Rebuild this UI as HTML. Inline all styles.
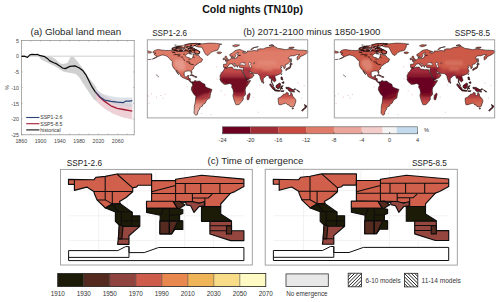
<!DOCTYPE html>
<html><head><meta charset="utf-8"><style>
html,body{margin:0;padding:0;background:#fff;width:500px;height:302px;overflow:hidden}
svg{display:block}
text{font-family:"Liberation Sans", sans-serif}
</style></head><body>
<svg width="500" height="302" viewBox="0 0 500 302">
<rect width="500" height="302" fill="#fff"/>
<text x="202.20" y="12.60" font-size="11" text-anchor="start" fill="#111" font-weight="bold" textLength="100.80" lengthAdjust="spacingAndGlyphs" >Cold nights (TN10p)</text>
<text x="30.40" y="35.00" font-size="9.2" text-anchor="start" fill="#1e1e1e" font-weight="normal" textLength="90.80" lengthAdjust="spacingAndGlyphs" >(a) Global land mean</text>
<text x="243.20" y="34.60" font-size="9.2" text-anchor="start" fill="#1e1e1e" font-weight="normal" textLength="137.20" lengthAdjust="spacingAndGlyphs" >(b) 2071-2100 minus 1850-1900</text>
<text x="152.20" y="35.60" font-size="8.5" text-anchor="start" fill="#222" font-weight="normal" textLength="34.80" lengthAdjust="spacingAndGlyphs" >SSP1-2.6</text>
<text x="454.80" y="35.60" font-size="8.5" text-anchor="start" fill="#222" font-weight="normal" textLength="35.20" lengthAdjust="spacingAndGlyphs" >SSP5-8.5</text>
<text x="207.60" y="163.80" font-size="9.2" text-anchor="start" fill="#1e1e1e" font-weight="normal" textLength="95.80" lengthAdjust="spacingAndGlyphs" >(c) Time of emergence</text>
<text x="66.80" y="166.00" font-size="8.3" text-anchor="start" fill="#222" font-weight="normal" textLength="35.20" lengthAdjust="spacingAndGlyphs" >SSP1-2.6</text>
<text x="411.90" y="165.70" font-size="8.3" text-anchor="start" fill="#222" font-weight="normal" textLength="35.00" lengthAdjust="spacingAndGlyphs" >SSP5-8.5</text>
<rect x="21.4" y="40.4" width="112.79999999999998" height="94.4" fill="none" stroke="#888" stroke-width="0.7"/>
<line x1="21.4" y1="56.20" x2="134.2" y2="56.20" stroke="#bbb" stroke-width="0.7"/>
<line x1="30.94" y1="134.8" x2="30.94" y2="133.60000000000002" stroke="#888" stroke-width="0.5"/>
<line x1="30.94" y1="40.4" x2="30.94" y2="41.6" stroke="#888" stroke-width="0.5"/>
<line x1="40.58" y1="134.8" x2="40.58" y2="133.60000000000002" stroke="#888" stroke-width="0.5"/>
<line x1="40.58" y1="40.4" x2="40.58" y2="41.6" stroke="#888" stroke-width="0.5"/>
<line x1="50.22" y1="134.8" x2="50.22" y2="133.60000000000002" stroke="#888" stroke-width="0.5"/>
<line x1="50.22" y1="40.4" x2="50.22" y2="41.6" stroke="#888" stroke-width="0.5"/>
<line x1="59.86" y1="134.8" x2="59.86" y2="133.60000000000002" stroke="#888" stroke-width="0.5"/>
<line x1="59.86" y1="40.4" x2="59.86" y2="41.6" stroke="#888" stroke-width="0.5"/>
<line x1="69.50" y1="134.8" x2="69.50" y2="133.60000000000002" stroke="#888" stroke-width="0.5"/>
<line x1="69.50" y1="40.4" x2="69.50" y2="41.6" stroke="#888" stroke-width="0.5"/>
<line x1="79.14" y1="134.8" x2="79.14" y2="133.60000000000002" stroke="#888" stroke-width="0.5"/>
<line x1="79.14" y1="40.4" x2="79.14" y2="41.6" stroke="#888" stroke-width="0.5"/>
<line x1="88.78" y1="134.8" x2="88.78" y2="133.60000000000002" stroke="#888" stroke-width="0.5"/>
<line x1="88.78" y1="40.4" x2="88.78" y2="41.6" stroke="#888" stroke-width="0.5"/>
<line x1="98.42" y1="134.8" x2="98.42" y2="133.60000000000002" stroke="#888" stroke-width="0.5"/>
<line x1="98.42" y1="40.4" x2="98.42" y2="41.6" stroke="#888" stroke-width="0.5"/>
<line x1="108.06" y1="134.8" x2="108.06" y2="133.60000000000002" stroke="#888" stroke-width="0.5"/>
<line x1="108.06" y1="40.4" x2="108.06" y2="41.6" stroke="#888" stroke-width="0.5"/>
<line x1="117.70" y1="134.8" x2="117.70" y2="133.60000000000002" stroke="#888" stroke-width="0.5"/>
<line x1="117.70" y1="40.4" x2="117.70" y2="41.6" stroke="#888" stroke-width="0.5"/>
<line x1="127.34" y1="134.8" x2="127.34" y2="133.60000000000002" stroke="#888" stroke-width="0.5"/>
<line x1="127.34" y1="40.4" x2="127.34" y2="41.6" stroke="#888" stroke-width="0.5"/>
<line x1="21.4" y1="40.48" x2="22.599999999999998" y2="40.48" stroke="#888" stroke-width="0.5"/>
<line x1="134.2" y1="40.48" x2="133.0" y2="40.48" stroke="#888" stroke-width="0.5"/>
<text x="19.00" y="42.69" font-size="5.3" text-anchor="end" fill="#444" font-weight="normal" >5</text>
<line x1="21.4" y1="56.20" x2="22.599999999999998" y2="56.20" stroke="#888" stroke-width="0.5"/>
<line x1="134.2" y1="56.20" x2="133.0" y2="56.20" stroke="#888" stroke-width="0.5"/>
<text x="19.00" y="58.40" font-size="5.3" text-anchor="end" fill="#444" font-weight="normal" >0</text>
<line x1="21.4" y1="71.92" x2="22.599999999999998" y2="71.92" stroke="#888" stroke-width="0.5"/>
<line x1="134.2" y1="71.92" x2="133.0" y2="71.92" stroke="#888" stroke-width="0.5"/>
<text x="19.00" y="74.12" font-size="5.3" text-anchor="end" fill="#444" font-weight="normal" >-5</text>
<line x1="21.4" y1="87.63" x2="22.599999999999998" y2="87.63" stroke="#888" stroke-width="0.5"/>
<line x1="134.2" y1="87.63" x2="133.0" y2="87.63" stroke="#888" stroke-width="0.5"/>
<text x="19.00" y="89.83" font-size="5.3" text-anchor="end" fill="#444" font-weight="normal" >-10</text>
<line x1="21.4" y1="103.34" x2="22.599999999999998" y2="103.34" stroke="#888" stroke-width="0.5"/>
<line x1="134.2" y1="103.34" x2="133.0" y2="103.34" stroke="#888" stroke-width="0.5"/>
<text x="19.00" y="105.55" font-size="5.3" text-anchor="end" fill="#444" font-weight="normal" >-15</text>
<line x1="21.4" y1="119.06" x2="22.599999999999998" y2="119.06" stroke="#888" stroke-width="0.5"/>
<line x1="134.2" y1="119.06" x2="133.0" y2="119.06" stroke="#888" stroke-width="0.5"/>
<text x="19.00" y="121.26" font-size="5.3" text-anchor="end" fill="#444" font-weight="normal" >-20</text>
<line x1="21.4" y1="134.77" x2="22.599999999999998" y2="134.77" stroke="#888" stroke-width="0.5"/>
<line x1="134.2" y1="134.77" x2="133.0" y2="134.77" stroke="#888" stroke-width="0.5"/>
<text x="19.00" y="136.97" font-size="5.3" text-anchor="end" fill="#444" font-weight="normal" >-25</text>
<text x="21.30" y="142.90" font-size="5.3" text-anchor="middle" fill="#444" font-weight="normal" >1860</text>
<text x="40.58" y="142.90" font-size="5.3" text-anchor="middle" fill="#444" font-weight="normal" >1900</text>
<text x="59.86" y="142.90" font-size="5.3" text-anchor="middle" fill="#444" font-weight="normal" >1940</text>
<text x="79.14" y="142.90" font-size="5.3" text-anchor="middle" fill="#444" font-weight="normal" >1980</text>
<text x="98.42" y="142.90" font-size="5.3" text-anchor="middle" fill="#444" font-weight="normal" >2020</text>
<text x="117.70" y="142.90" font-size="5.3" text-anchor="middle" fill="#444" font-weight="normal" >2060</text>
<text x="0" y="0" font-size="5.2" fill="#444" text-anchor="middle" transform="translate(9.2,87.6) rotate(-90)">%</text>
<polygon points="37.8,55.0 40.0,56.2 44.0,56.2 49.0,56.2 52.5,57.2 56.0,59.5 59.7,63.3 62.9,63.9 67.4,62.9 70.9,56.5 73.9,57.2 77.2,61.3 81.9,67.3 89.1,77.9 95.8,86.5 96.5,87.5 97.0,101.5 93.5,99.0 89.1,92.5 82.5,82.5 79.6,77.8 75.9,73.9 68.0,72.6 63.7,71.8 55.8,66.8 49.8,63.8 41.9,59.9 38.9,56.9" fill="#d0d0d0"/>
<polygon points="95.8,89.0 101.0,93.5 108.0,97.5 116.0,100.8 124.0,102.8 132.3,104.0 132.3,119.5 123.4,117.4 113.4,114.0 104.6,108.8 98.0,103.0 95.8,100.0" fill="#e8c6cd" fill-opacity="0.8"/>
<polygon points="94.5,87.5 102.1,93.8 110.9,96.3 119.7,97.6 132.3,97.6 132.3,107.0 123.4,106.4 114.6,104.5 107.1,100.7 100.0,96.0 95.5,92.0" fill="#c9d0da" fill-opacity="0.62"/>
<polyline points="95.8,92.3 99.5,97.0 104.6,101.4 110.9,105.8 117.2,108.3 123.4,109.5 132.3,111.2" fill="none" stroke="#a41c36" stroke-width="1.3" stroke-linejoin="round"/>
<polyline points="95.8,92.3 100.8,97.6 104.6,100.1 110.9,101.4 117.2,102.2 123.4,102.6 126.0,101.1 129.7,101.1 132.3,100.7" fill="none" stroke="#2a4272" stroke-width="1.2" stroke-linejoin="round"/>
<polyline points="21.5,56.4 24.5,56.2 27.4,57.4 29.9,54.9 31.9,54.4 35.9,54.6 37.9,54.4 39.4,55.4 44.8,56.7 47.3,58.4 49.8,60.9 53.8,62.7 56.7,63.9 59.7,65.9 62.4,68.0 65.3,68.6 69.9,66.4 74.9,65.9 79.0,67.8 83.0,70.8 85.9,74.8 88.9,80.7 91.9,86.7 94.9,91.3 95.8,92.3" fill="none" stroke="#0a0a0a" stroke-width="1.2" stroke-linejoin="round"/>
<line x1="26.2" y1="117.50" x2="39.4" y2="117.50" stroke="#2a4272" stroke-width="1.1"/>
<text x="40.20" y="119.30" font-size="5.2" text-anchor="start" fill="#333" font-weight="normal" >SSP1-2.6</text>
<line x1="26.2" y1="123.70" x2="39.4" y2="123.70" stroke="#a41c36" stroke-width="1.1"/>
<text x="40.20" y="125.50" font-size="5.2" text-anchor="start" fill="#333" font-weight="normal" >SSP5-8.5</text>
<line x1="26.2" y1="129.90" x2="39.4" y2="129.90" stroke="#111" stroke-width="1.1"/>
<text x="40.20" y="131.70" font-size="5.2" text-anchor="start" fill="#333" font-weight="normal" >historical</text>
<defs><clipPath id="landL"><path d="M147.5,50.7L149.7,51.4L151.5,51.9L151.1,52.8L148.4,53.1L147.5,52.8Z"/><path d="M172.0,49.4L172.4,47.9L175.5,47.0L178.7,46.2L183.1,45.5L185.3,44.5L189.8,43.7L196.4,43.4L200.9,43.8L195.6,45.3L193.3,46.3L192.0,47.1L192.9,48.0L195.6,49.4L197.8,50.5L200.0,51.8L199.1,53.9L196.4,54.1L194.7,53.1L192.9,53.1L191.1,52.0L188.9,51.3L185.8,50.7L183.1,51.0L179.5,51.3L176.0,50.7L173.8,50.2Z"/><path d="M152.8,52.5L153.7,51.0L155.5,50.1L158.2,49.5L161.7,50.1L164.9,50.4L168.4,50.5L172.0,50.2L176.4,50.8L179.5,51.3L184.0,51.4L185.8,50.5L188.4,51.1L191.1,50.8L191.6,52.0L189.3,52.0L188.4,53.3L186.2,54.4L185.5,55.9L186.4,57.0L189.3,57.8L191.1,59.1L192.4,58.0L193.3,55.9L192.9,54.1L195.1,54.4L196.9,55.4L198.7,55.4L200.2,57.5L202.7,59.3L201.3,61.9L199.1,62.7L198.2,63.8L196.4,64.3L196.4,65.1L194.7,65.7L193.8,67.4L193.8,68.4L191.6,70.3L192.0,73.4L191.3,73.4L190.7,71.3L189.8,71.0L187.8,70.9L185.8,71.3L184.2,72.3L184.2,75.2L185.3,77.0L187.1,76.9L187.3,75.7L188.9,75.5L188.4,78.3L190.2,78.6L190.4,80.9L191.3,82.0L192.2,81.7L193.1,82.2L192.9,82.9L191.8,82.9L190.7,82.4L189.6,81.2L188.7,79.9L186.9,79.4L184.9,78.5L183.1,77.8L180.7,76.2L180.7,74.9L179.1,73.4L177.8,71.6L176.6,70.3L177.1,71.6L178.7,74.7L177.8,73.7L176.4,71.8L175.5,69.7L174.0,68.7L173.1,67.1L172.4,65.6L172.2,63.8L172.4,61.7L172.0,60.6L170.6,60.1L169.3,58.3L167.5,56.7L165.3,55.5L162.2,54.9L160.0,55.7L157.7,56.7L155.5,57.9L152.4,59.1L155.1,57.6L157.1,56.2L155.5,55.4L154.0,54.4L154.4,53.6L156.0,53.1L153.7,52.9Z"/><path d="M195.1,45.9L198.2,47.0L201.8,47.2L202.9,49.2L203.6,50.7L204.5,52.6L205.8,54.6L208.0,55.5L209.1,54.4L210.7,52.6L213.4,51.3L216.0,50.7L217.8,50.0L218.3,48.7L219.4,46.8L219.1,45.0L221.8,44.2L216.5,43.4L209.8,43.1L203.1,43.7L200.0,44.0L196.4,45.0Z"/><path d="M187.6,48.9L189.8,48.2L192.9,48.8L196.0,49.8L197.8,50.5L200.0,51.9L198.5,54.1L196.0,54.0L194.7,53.1L195.1,51.5L192.9,50.3L189.3,50.0Z"/><path d="M186.7,46.8L190.2,46.9L192.9,46.6L193.8,45.7L197.3,44.7L200.0,44.0L196.4,43.4L189.8,43.7L186.7,44.5L184.9,45.3Z"/><path d="M186.7,47.9L192.0,47.9L192.0,46.8L187.6,46.7Z"/><path d="M174.9,49.7L176.0,48.4L178.7,48.7L182.2,48.7L182.7,50.7L180.4,50.8L176.0,50.7Z"/><path d="M171.8,49.2L172.4,48.0L175.5,47.8L176.4,48.5L174.2,49.5Z"/><path d="M175.1,47.3L177.3,46.7L180.9,46.8L181.3,47.6L178.2,47.9Z"/><path d="M182.7,48.9L184.9,48.4L185.8,49.2L184.4,50.0Z"/><path d="M188.9,53.6L191.6,54.0L189.8,52.3Z"/><path d="M216.9,52.6L217.8,52.0L220.9,52.0L221.6,52.8L219.6,53.7L217.6,53.4Z"/><path d="M225.1,60.6L228.3,60.1L228.4,59.2L227.6,58.8L226.8,57.6L226.8,56.7L226.2,56.1L225.4,56.1L224.8,57.2L225.4,58.1L226.3,58.5L225.5,59.2L225.4,59.8L226.3,59.9Z"/><path d="M224.9,59.6L224.9,58.5L224.3,57.9L223.1,58.5L223.0,59.7Z"/><path d="M223.6,67.4L223.5,64.3L226.7,64.0L226.9,62.7L225.6,61.4L228.3,60.6L229.4,59.8L231.2,58.6L231.4,57.0L232.3,56.7L232.4,58.5L233.8,58.5L236.9,58.0L236.9,57.0L238.3,55.7L240.5,55.4L237.6,55.3L236.9,54.4L238.7,52.8L237.4,52.4L235.2,54.6L235.8,55.7L234.7,57.5L233.2,57.5L232.3,55.8L231.2,56.5L230.0,56.0L229.8,54.4L232.0,53.3L233.8,51.5L236.1,50.2L238.3,49.7L240.1,49.6L242.3,50.5L245.8,51.8L244.5,52.3L243.2,52.0L242.5,52.3L244.5,53.3L247.2,52.3L247.2,51.0L251.2,51.0L254.3,50.5L257.9,51.0L257.4,49.4L260.1,48.8L263.2,48.9L266.3,47.6L272.1,46.6L274.3,46.3L277.9,48.4L281.4,48.8L285.4,49.7L289.9,48.9L294.3,49.4L298.8,50.2L303.2,50.2L307.7,50.8L307.7,52.6L306.8,53.1L305.0,54.4L303.2,55.4L300.1,56.7L299.7,58.3L297.2,60.1L297.0,57.0L299.7,54.6L297.0,54.6L294.3,55.7L290.3,55.9L288.1,58.3L290.3,59.1L289.9,61.7L287.7,64.0L285.4,64.5L285.2,67.9L283.9,68.7L283.7,67.1L283.2,66.1L281.7,65.8L280.6,66.4L282.1,67.4L280.6,68.4L281.7,70.0L281.9,71.6L280.6,73.6L277.9,74.9L275.9,75.5L274.8,76.8L276.1,80.4L274.3,82.1L272.3,79.6L271.9,81.5L272.1,82.5L273.7,85.9L271.4,82.5L271.2,78.3L269.4,78.3L268.5,75.5L266.8,75.5L264.1,77.8L263.2,78.8L263.2,81.5L261.9,82.5L260.1,77.8L259.9,75.7L258.8,74.9L257.4,73.6L255.2,73.5L253.0,73.2L252.7,72.6L250.7,72.2L249.8,71.0L249.0,71.0L250.1,72.9L250.5,73.6L252.5,73.1L252.7,74.2L254.2,74.9L252.1,77.8L250.7,78.3L247.6,79.9L246.7,80.0L245.0,75.7L243.2,72.1L243.0,71.3L242.8,70.4L243.4,67.9L243.6,67.5L240.9,67.8L239.6,67.4L239.4,65.8L237.8,65.6L237.4,67.4L236.5,65.8L236.3,64.8L233.6,63.0L233.1,63.5L234.7,65.1L235.8,65.8L234.7,66.9L234.5,66.9L232.9,65.1L232.0,63.8L230.7,63.9L228.9,64.3L228.9,64.9L227.6,66.4L227.4,67.1L226.7,67.6L225.2,67.9Z"/><path d="M225.0,67.8L223.1,71.3L221.8,72.3L220.0,75.7L220.3,78.8L219.8,79.0L220.9,81.2L222.5,83.1L224.3,84.4L226.7,84.2L229.8,83.5L231.6,84.6L232.0,85.6L231.6,87.2L232.9,89.3L233.6,92.4L232.9,95.8L234.3,100.7L235.8,104.6L236.5,104.8L239.2,104.4L241.8,101.5L243.4,99.2L243.2,97.1L245.6,94.5L245.4,91.9L245.2,89.8L245.8,87.4L247.2,85.9L250.3,81.2L250.5,80.5L247.2,80.9L246.7,80.0L245.6,78.3L244.5,75.7L243.4,73.6L242.3,71.6L242.1,70.1L241.4,69.8L238.7,69.5L236.5,70.0L236.5,69.2L234.3,69.2L232.5,68.2L232.3,67.1L231.2,67.1L228.9,67.2L226.7,67.9Z"/><path d="M247.2,99.7L247.0,97.9L247.4,95.3L249.6,92.9L250.1,94.7L248.7,99.7Z"/><path d="M193.3,82.2L194.2,80.9L195.6,80.4L195.8,81.2L197.3,81.2L200.0,81.1L200.9,82.2L203.1,83.5L204.9,84.3L205.3,86.7L207.8,88.0L212.0,89.5L210.5,93.7L209.8,98.1L206.7,99.9L205.1,103.3L202.7,104.6L202.7,105.9L200.5,107.0L199.6,108.0L199.8,109.0L198.2,110.9L197.6,113.2L197.6,114.3L195.8,115.3L194.0,113.2L194.2,109.6L194.4,105.9L195.3,102.3L195.8,96.3L193.6,93.9L191.3,89.8L191.6,87.2L192.7,85.4L192.2,82.5Z"/><path d="M278.3,98.1L278.1,100.2L278.8,104.4L280.1,104.9L282.8,104.1L285.9,103.1L287.7,104.9L289.0,104.9L289.9,106.4L292.6,107.0L294.3,106.2L295.9,101.2L295.7,99.7L293.9,97.3L292.6,96.3L292.3,94.2L291.0,92.2L290.6,93.4L290.6,95.5L289.9,95.8L288.1,94.5L288.3,92.9L286.3,92.5L285.2,94.5L284.1,93.9L283.2,94.5L281.9,95.8L281.4,96.8L279.7,97.4Z"/><path d="M292.1,107.9L293.6,108.0L293.0,109.3L292.3,108.8Z"/><path d="M304.5,104.6L307.0,106.3L306.4,107.2L305.3,108.3L305.3,107.0Z"/><path d="M304.5,107.7L305.2,108.3L303.8,109.8L302.6,110.9L301.7,110.5Z"/><path d="M285.9,69.0L287.7,68.1L289.9,66.9L290.6,65.2L290.8,66.1L290.1,68.2L289.2,68.6L287.7,69.2L285.9,70.5Z"/><path d="M289.9,64.8L290.7,63.0L292.3,64.1L291.2,64.8Z"/><path d="M263.2,83.5L264.0,82.8L263.3,81.6Z"/><path d="M281.1,74.9L281.7,73.5L281.8,73.9Z"/><path d="M281.0,77.0L282.1,77.1L282.8,79.9L281.2,79.4Z"/><path d="M281.9,83.0L283.9,83.3L283.7,81.7L282.6,82.1Z"/><path d="M270.0,83.8L271.2,84.5L274.8,88.2L274.8,89.8L273.0,89.3L269.9,85.1Z"/><path d="M274.3,89.8L277.0,90.0L278.6,90.3L280.6,90.9L278.6,91.3L274.8,90.8Z"/><path d="M293.5,89.5L295.2,88.7L295.7,89.3L294.3,90.0Z"/><path d="M296.6,89.8L298.8,91.1L299.7,92.1L297.9,91.3Z"/><path d="M281.0,91.1L284.1,90.8L283.2,91.6Z"/><path d="M276.1,85.6L279.7,83.0L280.6,84.1L280.1,86.1L279.2,88.5L277.0,88.2L276.1,87.2Z"/><path d="M280.6,89.7L280.8,86.4L283.2,85.7L281.7,87.1L282.6,89.0L281.4,88.2Z"/><path d="M285.9,87.4L288.8,87.4L293.0,89.8L294.6,92.1L291.2,91.3L290.3,91.5L289.0,91.0L287.7,88.8L286.3,88.7Z"/><path d="M189.8,75.3L192.0,74.6L194.6,76.1L193.1,76.3L192.0,75.4Z"/><path d="M194.4,77.1L195.2,76.3L197.1,77.0L196.0,77.4Z"/><path d="M290.8,62.7L291.5,61.1L291.0,58.4L290.8,60.1Z"/><path d="M232.5,45.8L235.2,44.7L239.6,45.0L237.4,46.3L234.7,46.8Z"/><path d="M250.7,49.7L252.5,47.9L258.3,46.7L254.3,47.6L252.1,49.4Z"/><path d="M269.0,45.5L272.1,44.5L273.9,45.5Z"/><path d="M288.6,48.1L290.8,47.1L294.3,47.3L292.1,48.4Z"/></clipPath><filter id="blurL" x="-5%" y="-5%" width="110%" height="110%"><feGaussianBlur stdDeviation="1.1"/></filter></defs>
<g clip-path="url(#landL)"><rect x="147.5" y="39.8" width="160.2" height="78.1" fill="#df7b69"/><g filter="url(#blurL)">
<path d="M175.1,59.6L183.1,59.6L185.8,65.8L184.0,70.5L178.7,70.5L174.2,64.8Z" fill="#e6998a"/>
<path d="M169.8,45.0L200.9,45.0L196.4,52.3L174.2,52.3Z" fill="#d46a58"/>
<path d="M175.1,72.6L184.9,72.6L192.0,76.2L194.2,84.1L185.3,84.1L178.7,78.8Z" fill="#d46656"/>
<path d="M186.2,78.3L194.2,78.3L194.2,84.1L187.6,84.1Z" fill="#a22c3a"/>
<path d="M189.3,74.2L198.2,74.2L198.2,78.3L189.3,78.3Z" fill="#6a1420"/>
<path d="M222.3,55.4L240.9,55.4L245.4,60.6L245.4,68.4L222.3,68.4Z" fill="#dc7262"/>
<path d="M245.4,45.0L307.7,45.0L307.7,50.2L245.4,50.2Z" fill="#d8705c"/>
<path d="M257.9,60.6L275.7,60.6L275.7,65.3L257.9,65.3Z" fill="#e28676"/>
<path d="M243.2,66.9L254.3,66.9L255.2,73.6L254.3,80.4L245.4,80.4L242.7,72.1Z" fill="#c9544a"/>
<path d="M254.3,69.0L283.2,69.0L283.2,76.2L254.3,76.2Z" fill="#c85048"/>
<path d="M262.3,66.9L272.1,66.9L272.1,70.5L262.3,70.5Z" fill="#dc7a6a"/>
<path d="M257.0,72.6L268.5,72.6L268.5,76.2L263.2,84.1L259.6,78.8Z" fill="#b03a40"/>
<path d="M268.5,74.7L276.6,74.7L276.6,86.7L268.5,86.7Z" fill="#9c2634"/>
<path d="M269.4,76.2L295.2,76.2L295.2,92.9L269.4,92.9Z" fill="#8a1a2a"/>
<path d="M219.6,66.9L250.7,66.9L250.7,78.3L219.6,78.3Z" fill="#aa3440"/>
<path d="M219.6,66.9L243.2,66.9L243.2,73.1L219.6,73.1Z" fill="#c24846"/>
<path d="M219.6,77.3L250.7,77.3L246.3,89.3L243.6,94.5L232.9,94.5L231.2,86.7L219.6,82.5Z" fill="#740a20"/>
<path d="M232.0,92.9L246.3,92.9L244.5,97.1L234.3,97.1Z" fill="#a02838"/>
<path d="M232.0,97.1L245.4,97.1L243.2,101.2L234.3,101.2Z" fill="#d06656"/>
<path d="M232.0,101.2L243.2,101.2L240.9,105.4L234.3,105.4Z" fill="#de8674"/>
<path d="M246.3,92.4L250.7,92.4L250.7,100.2L246.3,100.2Z" fill="#a02838"/>
<path d="M191.1,79.9L203.1,79.9L212.5,89.3L210.7,92.9L203.1,95.0L196.4,98.1L191.1,96.0Z" fill="#6e0820"/>
<path d="M191.1,96.0L196.4,98.1L203.1,95.0L210.7,92.9L209.8,98.1L203.1,100.2L194.2,100.2Z" fill="#a8343e"/>
<path d="M192.9,100.2L207.6,100.2L204.5,103.8L192.9,103.8Z" fill="#d06a5c"/>
<path d="M192.0,103.8L204.5,103.8L200.9,108.5L192.0,108.5Z" fill="#e49888"/>
<path d="M192.0,108.5L200.9,108.5L198.7,117.9L192.0,117.9Z" fill="#eaaca0"/>
<path d="M277.4,91.9L296.6,91.9L296.6,98.1L277.4,98.1Z" fill="#c85046"/>
<path d="M287.7,102.3L296.6,102.3L296.6,110.1L287.7,110.1Z" fill="#e08a78"/>
<path d="M301.0,103.8L307.7,103.8L307.7,111.7L301.0,111.7Z" fill="#8a1a2a"/>
</g></g>
<path d="M147.5,50.7L149.7,51.4L151.5,51.9L151.1,52.8L148.4,53.1L147.5,52.8ZM172.0,49.4L172.4,47.9L175.5,47.0L178.7,46.2L183.1,45.5L185.3,44.5L189.8,43.7L196.4,43.4L200.9,43.8L195.6,45.3L193.3,46.3L192.0,47.1L192.9,48.0L195.6,49.4L197.8,50.5L200.0,51.8L199.1,53.9L196.4,54.1L194.7,53.1L192.9,53.1L191.1,52.0L188.9,51.3L185.8,50.7L183.1,51.0L179.5,51.3L176.0,50.7L173.8,50.2ZM152.8,52.5L153.7,51.0L155.5,50.1L158.2,49.5L161.7,50.1L164.9,50.4L168.4,50.5L172.0,50.2L176.4,50.8L179.5,51.3L184.0,51.4L185.8,50.5L188.4,51.1L191.1,50.8L191.6,52.0L189.3,52.0L188.4,53.3L186.2,54.4L185.5,55.9L186.4,57.0L189.3,57.8L191.1,59.1L192.4,58.0L193.3,55.9L192.9,54.1L195.1,54.4L196.9,55.4L198.7,55.4L200.2,57.5L202.7,59.3L201.3,61.9L199.1,62.7L198.2,63.8L196.4,64.3L196.4,65.1L194.7,65.7L193.8,67.4L193.8,68.4L191.6,70.3L192.0,73.4L191.3,73.4L190.7,71.3L189.8,71.0L187.8,70.9L185.8,71.3L184.2,72.3L184.2,75.2L185.3,77.0L187.1,76.9L187.3,75.7L188.9,75.5L188.4,78.3L190.2,78.6L190.4,80.9L191.3,82.0L192.2,81.7L193.1,82.2L192.9,82.9L191.8,82.9L190.7,82.4L189.6,81.2L188.7,79.9L186.9,79.4L184.9,78.5L183.1,77.8L180.7,76.2L180.7,74.9L179.1,73.4L177.8,71.6L176.6,70.3L177.1,71.6L178.7,74.7L177.8,73.7L176.4,71.8L175.5,69.7L174.0,68.7L173.1,67.1L172.4,65.6L172.2,63.8L172.4,61.7L172.0,60.6L170.6,60.1L169.3,58.3L167.5,56.7L165.3,55.5L162.2,54.9L160.0,55.7L157.7,56.7L155.5,57.9L152.4,59.1L155.1,57.6L157.1,56.2L155.5,55.4L154.0,54.4L154.4,53.6L156.0,53.1L153.7,52.9ZM195.1,45.9L198.2,47.0L201.8,47.2L202.9,49.2L203.6,50.7L204.5,52.6L205.8,54.6L208.0,55.5L209.1,54.4L210.7,52.6L213.4,51.3L216.0,50.7L217.8,50.0L218.3,48.7L219.4,46.8L219.1,45.0L221.8,44.2L216.5,43.4L209.8,43.1L203.1,43.7L200.0,44.0L196.4,45.0ZM187.6,48.9L189.8,48.2L192.9,48.8L196.0,49.8L197.8,50.5L200.0,51.9L198.5,54.1L196.0,54.0L194.7,53.1L195.1,51.5L192.9,50.3L189.3,50.0ZM186.7,46.8L190.2,46.9L192.9,46.6L193.8,45.7L197.3,44.7L200.0,44.0L196.4,43.4L189.8,43.7L186.7,44.5L184.9,45.3ZM186.7,47.9L192.0,47.9L192.0,46.8L187.6,46.7ZM174.9,49.7L176.0,48.4L178.7,48.7L182.2,48.7L182.7,50.7L180.4,50.8L176.0,50.7ZM171.8,49.2L172.4,48.0L175.5,47.8L176.4,48.5L174.2,49.5ZM175.1,47.3L177.3,46.7L180.9,46.8L181.3,47.6L178.2,47.9ZM182.7,48.9L184.9,48.4L185.8,49.2L184.4,50.0ZM188.9,53.6L191.6,54.0L189.8,52.3ZM216.9,52.6L217.8,52.0L220.9,52.0L221.6,52.8L219.6,53.7L217.6,53.4ZM225.1,60.6L228.3,60.1L228.4,59.2L227.6,58.8L226.8,57.6L226.8,56.7L226.2,56.1L225.4,56.1L224.8,57.2L225.4,58.1L226.3,58.5L225.5,59.2L225.4,59.8L226.3,59.9ZM224.9,59.6L224.9,58.5L224.3,57.9L223.1,58.5L223.0,59.7ZM223.6,67.4L223.5,64.3L226.7,64.0L226.9,62.7L225.6,61.4L228.3,60.6L229.4,59.8L231.2,58.6L231.4,57.0L232.3,56.7L232.4,58.5L233.8,58.5L236.9,58.0L236.9,57.0L238.3,55.7L240.5,55.4L237.6,55.3L236.9,54.4L238.7,52.8L237.4,52.4L235.2,54.6L235.8,55.7L234.7,57.5L233.2,57.5L232.3,55.8L231.2,56.5L230.0,56.0L229.8,54.4L232.0,53.3L233.8,51.5L236.1,50.2L238.3,49.7L240.1,49.6L242.3,50.5L245.8,51.8L244.5,52.3L243.2,52.0L242.5,52.3L244.5,53.3L247.2,52.3L247.2,51.0L251.2,51.0L254.3,50.5L257.9,51.0L257.4,49.4L260.1,48.8L263.2,48.9L266.3,47.6L272.1,46.6L274.3,46.3L277.9,48.4L281.4,48.8L285.4,49.7L289.9,48.9L294.3,49.4L298.8,50.2L303.2,50.2L307.7,50.8L307.7,52.6L306.8,53.1L305.0,54.4L303.2,55.4L300.1,56.7L299.7,58.3L297.2,60.1L297.0,57.0L299.7,54.6L297.0,54.6L294.3,55.7L290.3,55.9L288.1,58.3L290.3,59.1L289.9,61.7L287.7,64.0L285.4,64.5L285.2,67.9L283.9,68.7L283.7,67.1L283.2,66.1L281.7,65.8L280.6,66.4L282.1,67.4L280.6,68.4L281.7,70.0L281.9,71.6L280.6,73.6L277.9,74.9L275.9,75.5L274.8,76.8L276.1,80.4L274.3,82.1L272.3,79.6L271.9,81.5L272.1,82.5L273.7,85.9L271.4,82.5L271.2,78.3L269.4,78.3L268.5,75.5L266.8,75.5L264.1,77.8L263.2,78.8L263.2,81.5L261.9,82.5L260.1,77.8L259.9,75.7L258.8,74.9L257.4,73.6L255.2,73.5L253.0,73.2L252.7,72.6L250.7,72.2L249.8,71.0L249.0,71.0L250.1,72.9L250.5,73.6L252.5,73.1L252.7,74.2L254.2,74.9L252.1,77.8L250.7,78.3L247.6,79.9L246.7,80.0L245.0,75.7L243.2,72.1L243.0,71.3L242.8,70.4L243.4,67.9L243.6,67.5L240.9,67.8L239.6,67.4L239.4,65.8L237.8,65.6L237.4,67.4L236.5,65.8L236.3,64.8L233.6,63.0L233.1,63.5L234.7,65.1L235.8,65.8L234.7,66.9L234.5,66.9L232.9,65.1L232.0,63.8L230.7,63.9L228.9,64.3L228.9,64.9L227.6,66.4L227.4,67.1L226.7,67.6L225.2,67.9ZM225.0,67.8L223.1,71.3L221.8,72.3L220.0,75.7L220.3,78.8L219.8,79.0L220.9,81.2L222.5,83.1L224.3,84.4L226.7,84.2L229.8,83.5L231.6,84.6L232.0,85.6L231.6,87.2L232.9,89.3L233.6,92.4L232.9,95.8L234.3,100.7L235.8,104.6L236.5,104.8L239.2,104.4L241.8,101.5L243.4,99.2L243.2,97.1L245.6,94.5L245.4,91.9L245.2,89.8L245.8,87.4L247.2,85.9L250.3,81.2L250.5,80.5L247.2,80.9L246.7,80.0L245.6,78.3L244.5,75.7L243.4,73.6L242.3,71.6L242.1,70.1L241.4,69.8L238.7,69.5L236.5,70.0L236.5,69.2L234.3,69.2L232.5,68.2L232.3,67.1L231.2,67.1L228.9,67.2L226.7,67.9ZM247.2,99.7L247.0,97.9L247.4,95.3L249.6,92.9L250.1,94.7L248.7,99.7ZM193.3,82.2L194.2,80.9L195.6,80.4L195.8,81.2L197.3,81.2L200.0,81.1L200.9,82.2L203.1,83.5L204.9,84.3L205.3,86.7L207.8,88.0L212.0,89.5L210.5,93.7L209.8,98.1L206.7,99.9L205.1,103.3L202.7,104.6L202.7,105.9L200.5,107.0L199.6,108.0L199.8,109.0L198.2,110.9L197.6,113.2L197.6,114.3L195.8,115.3L194.0,113.2L194.2,109.6L194.4,105.9L195.3,102.3L195.8,96.3L193.6,93.9L191.3,89.8L191.6,87.2L192.7,85.4L192.2,82.5ZM278.3,98.1L278.1,100.2L278.8,104.4L280.1,104.9L282.8,104.1L285.9,103.1L287.7,104.9L289.0,104.9L289.9,106.4L292.6,107.0L294.3,106.2L295.9,101.2L295.7,99.7L293.9,97.3L292.6,96.3L292.3,94.2L291.0,92.2L290.6,93.4L290.6,95.5L289.9,95.8L288.1,94.5L288.3,92.9L286.3,92.5L285.2,94.5L284.1,93.9L283.2,94.5L281.9,95.8L281.4,96.8L279.7,97.4ZM292.1,107.9L293.6,108.0L293.0,109.3L292.3,108.8ZM304.5,104.6L307.0,106.3L306.4,107.2L305.3,108.3L305.3,107.0ZM304.5,107.7L305.2,108.3L303.8,109.8L302.6,110.9L301.7,110.5ZM285.9,69.0L287.7,68.1L289.9,66.9L290.6,65.2L290.8,66.1L290.1,68.2L289.2,68.6L287.7,69.2L285.9,70.5ZM289.9,64.8L290.7,63.0L292.3,64.1L291.2,64.8ZM263.2,83.5L264.0,82.8L263.3,81.6ZM281.1,74.9L281.7,73.5L281.8,73.9ZM281.0,77.0L282.1,77.1L282.8,79.9L281.2,79.4ZM281.9,83.0L283.9,83.3L283.7,81.7L282.6,82.1ZM270.0,83.8L271.2,84.5L274.8,88.2L274.8,89.8L273.0,89.3L269.9,85.1ZM274.3,89.8L277.0,90.0L278.6,90.3L280.6,90.9L278.6,91.3L274.8,90.8ZM293.5,89.5L295.2,88.7L295.7,89.3L294.3,90.0ZM296.6,89.8L298.8,91.1L299.7,92.1L297.9,91.3ZM281.0,91.1L284.1,90.8L283.2,91.6ZM276.1,85.6L279.7,83.0L280.6,84.1L280.1,86.1L279.2,88.5L277.0,88.2L276.1,87.2ZM280.6,89.7L280.8,86.4L283.2,85.7L281.7,87.1L282.6,89.0L281.4,88.2ZM285.9,87.4L288.8,87.4L293.0,89.8L294.6,92.1L291.2,91.3L290.3,91.5L289.0,91.0L287.7,88.8L286.3,88.7ZM189.8,75.3L192.0,74.6L194.6,76.1L193.1,76.3L192.0,75.4ZM194.4,77.1L195.2,76.3L197.1,77.0L196.0,77.4ZM290.8,62.7L291.5,61.1L291.0,58.4L290.8,60.1ZM232.5,45.8L235.2,44.7L239.6,45.0L237.4,46.3L234.7,46.8ZM250.7,49.7L252.5,47.9L258.3,46.7L254.3,47.6L252.1,49.4ZM269.0,45.5L272.1,44.5L273.9,45.5ZM288.6,48.1L290.8,47.1L294.3,47.3L292.1,48.4Z" fill="none" stroke="#120606" stroke-width="0.6" stroke-opacity="0.9"/>
<path d="M274.3,89.8L277.0,90.0L278.6,90.3L280.6,90.9L278.6,91.3L274.8,90.8ZM270.0,83.8L271.2,84.5L274.8,88.2L274.8,89.8L273.0,89.3L269.9,85.1ZM276.1,85.6L279.7,83.0L280.6,84.1L280.1,86.1L279.2,88.5L277.0,88.2L276.1,87.2ZM280.6,89.7L280.8,86.4L283.2,85.7L281.7,87.1L282.6,89.0L281.4,88.2ZM281.0,77.0L282.1,77.1L282.8,79.9L281.2,79.4ZM281.9,83.0L283.9,83.3L283.7,81.7L282.6,82.1ZM285.9,87.4L288.8,87.4L293.0,89.8L294.6,92.1L291.2,91.3L290.3,91.5L289.0,91.0L287.7,88.8L286.3,88.7ZM293.5,89.5L295.2,88.7L295.7,89.3L294.3,90.0ZM296.6,89.8L298.8,91.1L299.7,92.1L297.9,91.3ZM281.0,91.1L284.1,90.8L283.2,91.6ZM285.9,69.0L287.7,68.1L289.9,66.9L290.6,65.2L290.8,66.1L290.1,68.2L289.2,68.6L287.7,69.2L285.9,70.5ZM289.9,64.8L290.7,63.0L292.3,64.1L291.2,64.8ZM304.5,104.6L307.0,106.3L306.4,107.2L305.3,108.3L305.3,107.0ZM304.5,107.7L305.2,108.3L303.8,109.8L302.6,110.9L301.7,110.5ZM187.6,48.9L189.8,48.2L192.9,48.8L196.0,49.8L197.8,50.5L200.0,51.9L198.5,54.1L196.0,54.0L194.7,53.1L195.1,51.5L192.9,50.3L189.3,50.0ZM174.9,49.7L176.0,48.4L178.7,48.7L182.2,48.7L182.7,50.7L180.4,50.8L176.0,50.7ZM188.9,53.6L191.6,54.0L189.8,52.3ZM183.1,54.4L184.9,54.9L184.4,53.6ZM178.7,54.4L179.5,55.4L180.4,54.1ZM172.4,52.3L175.1,52.8L174.2,51.8ZM192.9,57.0L194.7,58.0L193.8,56.5ZM173.3,54.9L176.0,54.6L175.1,53.9ZM188.4,59.3L189.3,60.1L190.2,59.1Z" fill="none" stroke="#1a0808" stroke-width="0.45" stroke-opacity="0.7"/>
<path d="M181.5,49.8L181.2,50.5M189.0,48.3L188.3,48.4M179.9,50.0L180.8,50.4M177.4,46.5L177.0,47.5M177.8,45.8L178.1,46.8M191.5,44.9L191.1,46.5M192.2,46.3L191.9,47.5M193.8,49.9L194.6,50.7M174.4,47.2L174.2,48.8M176.6,49.2L177.5,50.0M184.3,47.7L183.9,49.4M187.1,46.4L186.7,47.1M176.2,50.2L176.5,50.8M189.4,49.8L190.1,50.6M176.1,45.1L174.9,45.1M174.2,50.1L174.7,50.9M175.6,47.2L176.9,47.3M178.9,48.2L180.2,49.0M193.9,48.3L195.1,49.4M180.1,46.1L178.9,46.3M190.2,45.2L191.6,45.6M186.2,49.6L185.4,50.3M192.5,49.8L193.3,50.2M196.1,49.7L194.5,50.7M181.8,47.1L182.4,47.4M191.3,47.3L190.2,47.5M172.0,52.0L174.6,52.6M175.5,54.4L179.1,54.9M183.5,58.8L184.4,60.4M186.7,61.7L189.8,62.2M188.9,63.2L190.7,64.0M191.1,64.3L193.3,64.5M177.8,55.9L180.0,56.0M181.3,57.0L182.7,57.2" stroke="#120606" stroke-width="0.75" stroke-linecap="round" fill="none" stroke-opacity="0.9"/>
<path d="M175.0,47.9L174.2,48.4M185.7,48.6L184.5,49.5M189.3,47.1L187.9,47.7M183.5,45.5L184.6,46.0M193.1,46.5L191.5,46.6M182.5,46.3L183.7,46.4M184.8,48.3L183.2,49.0M183.7,50.1L183.4,50.9M177.8,49.7L178.2,50.4M197.3,45.0L196.0,45.8M186.6,48.6L187.3,48.7M182.2,49.3L182.9,49.9" stroke="#ffffff" stroke-width="0.6" stroke-linecap="round" fill="none" stroke-opacity="0.8"/>
<path d="M160.8,95.5h0.01M165.3,94.5h0.01M151.5,93.9h0.01M148.4,96.0h0.01M156.4,97.1h0.01M163.1,98.1h0.01M149.1,103.3h0.01M187.1,86.9h0.01M216.5,66.9h0.01M220.5,72.1h0.01M216.9,78.8h0.01M201.3,113.6h0.01M211.1,114.9h0.01M258.3,112.2h0.01M253.2,97.2h0.01M260.1,85.1h0.01M225.1,94.9h0.01M221.2,90.8h0.01M301.5,98.1h0.01M304.1,85.6h0.01M297.9,83.0h0.01" stroke="#d08880" stroke-width="0.9" stroke-linecap="round" stroke-opacity="0.7"/>
<path d="M156.4,74.9L158.6,76.8M147.7,59.7L151.1,59.3" stroke="#2a0c0c" stroke-width="0.7" stroke-linecap="round" stroke-opacity="0.85"/>
<path d="M240.1,65.1L240.1,63.8L240.9,63.0L242.5,62.7L243.6,63.0L245.0,62.2L244.5,63.2L246.1,64.8L243.6,65.2L242.3,64.8ZM248.5,63.2L249.6,62.4L251.2,63.2L250.3,64.3L251.2,65.8L251.6,67.1L250.3,67.4L249.4,66.6L249.6,65.6L248.7,64.3ZM253.6,63.8L254.3,62.7L255.0,63.2ZM177.8,47.9L183.1,47.7L184.9,48.4L181.3,48.5L177.3,48.2ZM188.4,48.9L190.2,49.0L190.7,49.8L188.9,50.0ZM184.0,46.3L186.7,46.2L187.6,46.8L184.9,46.9Z" fill="#fff" stroke="#1a0808" stroke-width="0.5" stroke-opacity="0.85"/>
<rect x="147.3" y="39.8" width="160.4" height="78.1" fill="none" stroke="#999" stroke-width="0.9"/>
<defs><clipPath id="landR"><path d="M334.5,50.7L336.7,51.4L338.5,51.9L338.1,52.8L335.4,53.1L334.5,52.8Z"/><path d="M359.0,49.4L359.4,47.9L362.5,47.0L365.6,46.2L370.1,45.5L372.3,44.5L376.8,43.7L383.4,43.4L387.9,43.8L382.6,45.3L380.3,46.3L379.0,47.1L379.9,48.0L382.6,49.4L384.8,50.5L387.0,51.8L386.1,53.9L383.4,54.1L381.7,53.1L379.9,53.1L378.1,52.0L375.9,51.3L372.8,50.7L370.1,51.0L366.5,51.3L363.0,50.7L360.8,50.2Z"/><path d="M339.8,52.5L340.7,51.0L342.5,50.1L345.2,49.5L348.7,50.1L351.9,50.4L355.4,50.5L359.0,50.2L363.4,50.8L366.5,51.3L371.0,51.4L372.8,50.5L375.4,51.1L378.1,50.8L378.6,52.0L376.3,52.0L375.4,53.3L373.2,54.4L372.5,55.9L373.4,57.0L376.3,57.8L378.1,59.1L379.4,58.0L380.3,55.9L379.9,54.1L382.1,54.4L383.9,55.4L385.7,55.4L387.2,57.5L389.7,59.3L388.3,61.9L386.1,62.7L385.2,63.8L383.4,64.3L383.4,65.1L381.7,65.7L380.8,67.4L380.8,68.4L378.6,70.3L379.0,73.4L378.3,73.4L377.7,71.3L376.8,71.0L374.8,70.9L372.8,71.3L371.2,72.3L371.2,75.2L372.3,77.0L374.1,76.9L374.3,75.7L375.9,75.5L375.4,78.3L377.2,78.6L377.4,80.9L378.3,82.0L379.2,81.7L380.1,82.2L379.9,82.9L378.8,82.9L377.7,82.4L376.6,81.2L375.7,79.9L373.9,79.4L371.9,78.5L370.1,77.8L367.7,76.2L367.7,74.9L366.1,73.4L364.8,71.6L363.6,70.3L364.1,71.6L365.6,74.7L364.8,73.7L363.4,71.8L362.5,69.7L361.0,68.7L360.1,67.1L359.4,65.6L359.2,63.8L359.4,61.7L359.0,60.6L357.6,60.1L356.3,58.3L354.5,56.7L352.3,55.5L349.2,54.9L347.0,55.7L344.7,56.7L342.5,57.9L339.4,59.1L342.1,57.6L344.1,56.2L342.5,55.4L341.0,54.4L341.4,53.6L343.0,53.1L340.7,52.9Z"/><path d="M382.1,45.9L385.2,47.0L388.8,47.2L389.9,49.2L390.6,50.7L391.5,52.6L392.8,54.6L395.0,55.5L396.1,54.4L397.7,52.6L400.4,51.3L403.0,50.7L404.8,50.0L405.3,48.7L406.4,46.8L406.1,45.0L408.8,44.2L403.5,43.4L396.8,43.1L390.1,43.7L387.0,44.0L383.4,45.0Z"/><path d="M374.6,48.9L376.8,48.2L379.9,48.8L383.0,49.8L384.8,50.5L387.0,51.9L385.5,54.1L383.0,54.0L381.7,53.1L382.1,51.5L379.9,50.3L376.3,50.0Z"/><path d="M373.7,46.8L377.2,46.9L379.9,46.6L380.8,45.7L384.3,44.7L387.0,44.0L383.4,43.4L376.8,43.7L373.7,44.5L371.9,45.3Z"/><path d="M373.7,47.9L379.0,47.9L379.0,46.8L374.6,46.7Z"/><path d="M361.9,49.7L363.0,48.4L365.6,48.7L369.2,48.7L369.7,50.7L367.4,50.8L363.0,50.7Z"/><path d="M358.8,49.2L359.4,48.0L362.5,47.8L363.4,48.5L361.2,49.5Z"/><path d="M362.1,47.3L364.3,46.7L367.9,46.8L368.3,47.6L365.2,47.9Z"/><path d="M369.7,48.9L371.9,48.4L372.8,49.2L371.4,50.0Z"/><path d="M375.9,53.6L378.6,54.0L376.8,52.3Z"/><path d="M403.9,52.6L404.8,52.0L407.9,52.0L408.6,52.8L406.6,53.7L404.6,53.4Z"/><path d="M412.1,60.6L415.3,60.1L415.4,59.2L414.6,58.8L413.8,57.6L413.8,56.7L413.2,56.1L412.4,56.1L411.8,57.2L412.4,58.1L413.3,58.5L412.5,59.2L412.4,59.8L413.3,59.9Z"/><path d="M411.9,59.6L411.9,58.5L411.3,57.9L410.1,58.5L410.0,59.7Z"/><path d="M410.6,67.4L410.5,64.3L413.7,64.0L413.9,62.7L412.6,61.4L415.3,60.6L416.4,59.8L418.2,58.6L418.4,57.0L419.3,56.7L419.4,58.5L420.8,58.5L423.9,58.0L423.9,57.0L425.3,55.7L427.5,55.4L424.6,55.3L423.9,54.4L425.7,52.8L424.4,52.4L422.2,54.6L422.8,55.7L421.7,57.5L420.2,57.5L419.3,55.8L418.2,56.5L417.0,56.0L416.8,54.4L419.0,53.3L420.8,51.5L423.1,50.2L425.3,49.7L427.1,49.6L429.3,50.5L432.8,51.8L431.5,52.3L430.2,52.0L429.5,52.3L431.5,53.3L434.2,52.3L434.2,51.0L438.2,51.0L441.3,50.5L444.9,51.0L444.4,49.4L447.1,48.8L450.2,48.9L453.3,47.6L459.1,46.6L461.3,46.3L464.9,48.4L468.4,48.8L472.4,49.7L476.9,48.9L481.3,49.4L485.8,50.2L490.2,50.2L494.7,50.8L494.7,52.6L493.8,53.1L492.0,54.4L490.2,55.4L487.1,56.7L486.7,58.3L484.2,60.1L484.0,57.0L486.7,54.6L484.0,54.6L481.3,55.7L477.3,55.9L475.1,58.3L477.3,59.1L476.9,61.7L474.7,64.0L472.4,64.5L472.2,67.9L470.9,68.7L470.7,67.1L470.2,66.1L468.7,65.8L467.6,66.4L469.1,67.4L467.6,68.4L468.7,70.0L468.9,71.6L467.6,73.6L464.9,74.9L462.9,75.5L461.8,76.8L463.1,80.4L461.3,82.1L459.3,79.6L458.9,81.5L459.1,82.5L460.7,85.9L458.4,82.5L458.2,78.3L456.4,78.3L455.5,75.5L453.8,75.5L451.1,77.8L450.2,78.8L450.2,81.5L448.9,82.5L447.1,77.8L446.9,75.7L445.8,74.9L444.4,73.6L442.2,73.5L440.0,73.2L439.7,72.6L437.7,72.2L436.9,71.0L436.0,71.0L437.1,72.9L437.5,73.6L439.5,73.1L439.7,74.2L441.2,74.9L439.1,77.8L437.7,78.3L434.6,79.9L433.7,80.0L432.0,75.7L430.2,72.1L430.0,71.3L429.8,70.4L430.4,67.9L430.6,67.5L427.9,67.8L426.6,67.4L426.4,65.8L424.8,65.6L424.4,67.4L423.5,65.8L423.3,64.8L420.6,63.0L420.1,63.5L421.7,65.1L422.8,65.8L421.7,66.9L421.5,66.9L419.9,65.1L419.0,63.8L417.7,63.9L415.9,64.3L415.9,64.9L414.6,66.4L414.4,67.1L413.7,67.6L412.2,67.9Z"/><path d="M412.0,67.8L410.1,71.3L408.8,72.3L407.0,75.7L407.3,78.8L406.8,79.0L407.9,81.2L409.5,83.1L411.3,84.4L413.7,84.2L416.8,83.5L418.6,84.6L419.0,85.6L418.6,87.2L419.9,89.3L420.6,92.4L419.9,95.8L421.3,100.7L422.8,104.6L423.5,104.8L426.2,104.4L428.8,101.5L430.4,99.2L430.2,97.1L432.6,94.5L432.4,91.9L432.2,89.8L432.8,87.4L434.2,85.9L437.3,81.2L437.5,80.5L434.2,80.9L433.7,80.0L432.6,78.3L431.5,75.7L430.4,73.6L429.3,71.6L429.1,70.1L428.4,69.8L425.7,69.5L423.5,70.0L423.5,69.2L421.3,69.2L419.5,68.2L419.3,67.1L418.2,67.1L415.9,67.2L413.7,67.9Z"/><path d="M434.2,99.7L434.0,97.9L434.4,95.3L436.6,92.9L437.1,94.7L435.7,99.7Z"/><path d="M380.3,82.2L381.2,80.9L382.6,80.4L382.8,81.2L384.3,81.2L387.0,81.1L387.9,82.2L390.1,83.5L391.9,84.3L392.4,86.7L394.8,88.0L399.0,89.5L397.5,93.7L396.8,98.1L393.7,99.9L392.1,103.3L389.7,104.6L389.7,105.9L387.5,107.0L386.6,108.0L386.8,109.0L385.2,110.9L384.6,113.2L384.6,114.3L382.8,115.3L381.0,113.2L381.2,109.6L381.4,105.9L382.3,102.3L382.8,96.3L380.6,93.9L378.3,89.8L378.6,87.2L379.7,85.4L379.2,82.5Z"/><path d="M465.3,98.1L465.1,100.2L465.8,104.4L467.1,104.9L469.8,104.1L472.9,103.1L474.7,104.9L476.0,104.9L476.9,106.4L479.6,107.0L481.3,106.2L482.9,101.2L482.7,99.7L480.9,97.3L479.6,96.3L479.3,94.2L478.0,92.2L477.6,93.4L477.6,95.5L476.9,95.8L475.1,94.5L475.3,92.9L473.3,92.5L472.2,94.5L471.1,93.9L470.2,94.5L468.9,95.8L468.4,96.8L466.7,97.4Z"/><path d="M479.1,107.9L480.6,108.0L480.0,109.3L479.3,108.8Z"/><path d="M491.5,104.6L494.0,106.3L493.4,107.2L492.3,108.3L492.3,107.0Z"/><path d="M491.5,107.7L492.2,108.3L490.8,109.8L489.6,110.9L488.7,110.5Z"/><path d="M472.9,69.0L474.7,68.1L476.9,66.9L477.6,65.2L477.8,66.1L477.1,68.2L476.2,68.6L474.7,69.2L472.9,70.5Z"/><path d="M476.9,64.8L477.7,63.0L479.3,64.1L478.2,64.8Z"/><path d="M450.2,83.5L451.0,82.8L450.3,81.6Z"/><path d="M468.1,74.9L468.7,73.5L468.8,73.9Z"/><path d="M468.0,77.0L469.1,77.1L469.8,79.9L468.2,79.4Z"/><path d="M468.9,83.0L470.9,83.3L470.7,81.7L469.6,82.1Z"/><path d="M457.0,83.8L458.2,84.5L461.8,88.2L461.8,89.8L460.0,89.3L456.9,85.1Z"/><path d="M461.3,89.8L464.0,90.0L465.6,90.3L467.6,90.9L465.6,91.3L461.8,90.8Z"/><path d="M480.5,89.5L482.2,88.7L482.7,89.3L481.3,90.0Z"/><path d="M483.6,89.8L485.8,91.1L486.7,92.1L484.9,91.3Z"/><path d="M468.0,91.1L471.1,90.8L470.2,91.6Z"/><path d="M463.1,85.6L466.7,83.0L467.6,84.1L467.1,86.1L466.2,88.5L464.0,88.2L463.1,87.2Z"/><path d="M467.6,89.7L467.8,86.4L470.2,85.7L468.7,87.1L469.6,89.0L468.4,88.2Z"/><path d="M472.9,87.4L475.8,87.4L480.0,89.8L481.6,92.1L478.2,91.3L477.3,91.5L476.0,91.0L474.7,88.8L473.3,88.7Z"/><path d="M376.8,75.3L379.0,74.6L381.6,76.1L380.1,76.3L379.0,75.4Z"/><path d="M381.4,77.1L382.2,76.3L384.1,77.0L383.0,77.4Z"/><path d="M477.8,62.7L478.5,61.1L478.0,58.4L477.8,60.1Z"/><path d="M419.5,45.8L422.2,44.7L426.6,45.0L424.4,46.3L421.7,46.8Z"/><path d="M437.7,49.7L439.5,47.9L445.3,46.7L441.3,47.6L439.1,49.4Z"/><path d="M456.0,45.5L459.1,44.5L460.9,45.5Z"/><path d="M475.6,48.1L477.8,47.1L481.3,47.3L479.1,48.4Z"/></clipPath><filter id="blurR" x="-5%" y="-5%" width="110%" height="110%"><feGaussianBlur stdDeviation="1.1"/></filter></defs>
<g clip-path="url(#landR)"><rect x="334.5" y="39.8" width="160.2" height="78.1" fill="#cc5a48"/><g filter="url(#blurR)">
<path d="M362.1,59.6L370.1,59.6L372.8,65.8L371.0,70.5L365.6,70.5L361.2,64.8Z" fill="#dc8270"/>
<path d="M356.8,45.0L387.9,45.0L383.4,52.3L361.2,52.3Z" fill="#bc4a42"/>
<path d="M362.1,72.6L371.9,72.6L379.0,76.2L381.2,84.1L372.3,84.1L365.6,78.8Z" fill="#c04846"/>
<path d="M373.2,78.3L381.2,78.3L381.2,84.1L374.6,84.1Z" fill="#8a1e30"/>
<path d="M376.3,74.2L385.2,74.2L385.2,78.3L376.3,78.3Z" fill="#601020"/>
<path d="M409.3,55.4L427.9,55.4L432.4,60.6L432.4,68.4L409.3,68.4Z" fill="#cc5848"/>
<path d="M432.4,45.0L494.7,45.0L494.7,50.2L432.4,50.2Z" fill="#ca5a4a"/>
<path d="M444.9,60.6L462.7,60.6L462.7,65.3L444.9,65.3Z" fill="#d6705e"/>
<path d="M430.2,66.9L441.3,66.9L442.2,73.6L441.3,80.4L432.4,80.4L429.7,72.1Z" fill="#b03a3e"/>
<path d="M441.3,69.0L470.2,69.0L470.2,76.2L441.3,76.2Z" fill="#b8403e"/>
<path d="M449.3,66.9L459.1,66.9L459.1,70.5L449.3,70.5Z" fill="#d26a58"/>
<path d="M444.0,72.6L455.5,72.6L455.5,76.2L450.2,84.1L446.6,78.8Z" fill="#9a2a38"/>
<path d="M455.5,74.7L463.6,74.7L463.6,86.7L455.5,86.7Z" fill="#8a1a2a"/>
<path d="M456.4,76.2L482.2,76.2L482.2,92.9L456.4,92.9Z" fill="#7a1024"/>
<path d="M406.6,66.9L437.7,66.9L437.7,78.3L406.6,78.3Z" fill="#8a1a2e"/>
<path d="M406.6,66.9L430.2,66.9L430.2,73.1L406.6,73.1Z" fill="#a22c3a"/>
<path d="M406.6,77.3L437.7,77.3L433.3,89.3L430.6,94.5L419.9,94.5L418.2,86.7L406.6,82.5Z" fill="#6a0520"/>
<path d="M419.0,92.9L433.3,92.9L431.5,97.1L421.3,97.1Z" fill="#7a0e24"/>
<path d="M419.0,97.1L432.4,97.1L430.2,101.2L421.3,101.2Z" fill="#b03840"/>
<path d="M419.0,101.2L430.2,101.2L427.9,105.4L421.3,105.4Z" fill="#c85048"/>
<path d="M433.3,92.4L437.7,92.4L437.7,100.2L433.3,100.2Z" fill="#7e1024"/>
<path d="M378.1,79.9L390.1,79.9L399.5,89.3L397.7,92.9L390.1,95.0L383.4,98.1L378.1,96.0Z" fill="#660420"/>
<path d="M378.1,96.0L383.4,98.1L390.1,95.0L397.7,92.9L396.8,98.1L390.1,100.2L381.2,100.2Z" fill="#7a0c24"/>
<path d="M379.9,100.2L394.6,100.2L391.5,103.8L379.9,103.8Z" fill="#b03c42"/>
<path d="M379.0,103.8L391.5,103.8L387.9,108.5L379.0,108.5Z" fill="#c85448"/>
<path d="M379.0,108.5L387.9,108.5L385.7,117.9L379.0,117.9Z" fill="#d46a58"/>
<path d="M464.4,91.9L483.6,91.9L483.6,98.1L464.4,98.1Z" fill="#b03c3e"/>
<path d="M474.7,102.3L483.6,102.3L483.6,110.1L474.7,110.1Z" fill="#d06a58"/>
<path d="M488.0,103.8L494.7,103.8L494.7,111.7L488.0,111.7Z" fill="#7a1024"/>
</g></g>
<path d="M334.5,50.7L336.7,51.4L338.5,51.9L338.1,52.8L335.4,53.1L334.5,52.8ZM359.0,49.4L359.4,47.9L362.5,47.0L365.6,46.2L370.1,45.5L372.3,44.5L376.8,43.7L383.4,43.4L387.9,43.8L382.6,45.3L380.3,46.3L379.0,47.1L379.9,48.0L382.6,49.4L384.8,50.5L387.0,51.8L386.1,53.9L383.4,54.1L381.7,53.1L379.9,53.1L378.1,52.0L375.9,51.3L372.8,50.7L370.1,51.0L366.5,51.3L363.0,50.7L360.8,50.2ZM339.8,52.5L340.7,51.0L342.5,50.1L345.2,49.5L348.7,50.1L351.9,50.4L355.4,50.5L359.0,50.2L363.4,50.8L366.5,51.3L371.0,51.4L372.8,50.5L375.4,51.1L378.1,50.8L378.6,52.0L376.3,52.0L375.4,53.3L373.2,54.4L372.5,55.9L373.4,57.0L376.3,57.8L378.1,59.1L379.4,58.0L380.3,55.9L379.9,54.1L382.1,54.4L383.9,55.4L385.7,55.4L387.2,57.5L389.7,59.3L388.3,61.9L386.1,62.7L385.2,63.8L383.4,64.3L383.4,65.1L381.7,65.7L380.8,67.4L380.8,68.4L378.6,70.3L379.0,73.4L378.3,73.4L377.7,71.3L376.8,71.0L374.8,70.9L372.8,71.3L371.2,72.3L371.2,75.2L372.3,77.0L374.1,76.9L374.3,75.7L375.9,75.5L375.4,78.3L377.2,78.6L377.4,80.9L378.3,82.0L379.2,81.7L380.1,82.2L379.9,82.9L378.8,82.9L377.7,82.4L376.6,81.2L375.7,79.9L373.9,79.4L371.9,78.5L370.1,77.8L367.7,76.2L367.7,74.9L366.1,73.4L364.8,71.6L363.6,70.3L364.1,71.6L365.6,74.7L364.8,73.7L363.4,71.8L362.5,69.7L361.0,68.7L360.1,67.1L359.4,65.6L359.2,63.8L359.4,61.7L359.0,60.6L357.6,60.1L356.3,58.3L354.5,56.7L352.3,55.5L349.2,54.9L347.0,55.7L344.7,56.7L342.5,57.9L339.4,59.1L342.1,57.6L344.1,56.2L342.5,55.4L341.0,54.4L341.4,53.6L343.0,53.1L340.7,52.9ZM382.1,45.9L385.2,47.0L388.8,47.2L389.9,49.2L390.6,50.7L391.5,52.6L392.8,54.6L395.0,55.5L396.1,54.4L397.7,52.6L400.4,51.3L403.0,50.7L404.8,50.0L405.3,48.7L406.4,46.8L406.1,45.0L408.8,44.2L403.5,43.4L396.8,43.1L390.1,43.7L387.0,44.0L383.4,45.0ZM374.6,48.9L376.8,48.2L379.9,48.8L383.0,49.8L384.8,50.5L387.0,51.9L385.5,54.1L383.0,54.0L381.7,53.1L382.1,51.5L379.9,50.3L376.3,50.0ZM373.7,46.8L377.2,46.9L379.9,46.6L380.8,45.7L384.3,44.7L387.0,44.0L383.4,43.4L376.8,43.7L373.7,44.5L371.9,45.3ZM373.7,47.9L379.0,47.9L379.0,46.8L374.6,46.7ZM361.9,49.7L363.0,48.4L365.6,48.7L369.2,48.7L369.7,50.7L367.4,50.8L363.0,50.7ZM358.8,49.2L359.4,48.0L362.5,47.8L363.4,48.5L361.2,49.5ZM362.1,47.3L364.3,46.7L367.9,46.8L368.3,47.6L365.2,47.9ZM369.7,48.9L371.9,48.4L372.8,49.2L371.4,50.0ZM375.9,53.6L378.6,54.0L376.8,52.3ZM403.9,52.6L404.8,52.0L407.9,52.0L408.6,52.8L406.6,53.7L404.6,53.4ZM412.1,60.6L415.3,60.1L415.4,59.2L414.6,58.8L413.8,57.6L413.8,56.7L413.2,56.1L412.4,56.1L411.8,57.2L412.4,58.1L413.3,58.5L412.5,59.2L412.4,59.8L413.3,59.9ZM411.9,59.6L411.9,58.5L411.3,57.9L410.1,58.5L410.0,59.7ZM410.6,67.4L410.5,64.3L413.7,64.0L413.9,62.7L412.6,61.4L415.3,60.6L416.4,59.8L418.2,58.6L418.4,57.0L419.3,56.7L419.4,58.5L420.8,58.5L423.9,58.0L423.9,57.0L425.3,55.7L427.5,55.4L424.6,55.3L423.9,54.4L425.7,52.8L424.4,52.4L422.2,54.6L422.8,55.7L421.7,57.5L420.2,57.5L419.3,55.8L418.2,56.5L417.0,56.0L416.8,54.4L419.0,53.3L420.8,51.5L423.1,50.2L425.3,49.7L427.1,49.6L429.3,50.5L432.8,51.8L431.5,52.3L430.2,52.0L429.5,52.3L431.5,53.3L434.2,52.3L434.2,51.0L438.2,51.0L441.3,50.5L444.9,51.0L444.4,49.4L447.1,48.8L450.2,48.9L453.3,47.6L459.1,46.6L461.3,46.3L464.9,48.4L468.4,48.8L472.4,49.7L476.9,48.9L481.3,49.4L485.8,50.2L490.2,50.2L494.7,50.8L494.7,52.6L493.8,53.1L492.0,54.4L490.2,55.4L487.1,56.7L486.7,58.3L484.2,60.1L484.0,57.0L486.7,54.6L484.0,54.6L481.3,55.7L477.3,55.9L475.1,58.3L477.3,59.1L476.9,61.7L474.7,64.0L472.4,64.5L472.2,67.9L470.9,68.7L470.7,67.1L470.2,66.1L468.7,65.8L467.6,66.4L469.1,67.4L467.6,68.4L468.7,70.0L468.9,71.6L467.6,73.6L464.9,74.9L462.9,75.5L461.8,76.8L463.1,80.4L461.3,82.1L459.3,79.6L458.9,81.5L459.1,82.5L460.7,85.9L458.4,82.5L458.2,78.3L456.4,78.3L455.5,75.5L453.8,75.5L451.1,77.8L450.2,78.8L450.2,81.5L448.9,82.5L447.1,77.8L446.9,75.7L445.8,74.9L444.4,73.6L442.2,73.5L440.0,73.2L439.7,72.6L437.7,72.2L436.9,71.0L436.0,71.0L437.1,72.9L437.5,73.6L439.5,73.1L439.7,74.2L441.2,74.9L439.1,77.8L437.7,78.3L434.6,79.9L433.7,80.0L432.0,75.7L430.2,72.1L430.0,71.3L429.8,70.4L430.4,67.9L430.6,67.5L427.9,67.8L426.6,67.4L426.4,65.8L424.8,65.6L424.4,67.4L423.5,65.8L423.3,64.8L420.6,63.0L420.1,63.5L421.7,65.1L422.8,65.8L421.7,66.9L421.5,66.9L419.9,65.1L419.0,63.8L417.7,63.9L415.9,64.3L415.9,64.9L414.6,66.4L414.4,67.1L413.7,67.6L412.2,67.9ZM412.0,67.8L410.1,71.3L408.8,72.3L407.0,75.7L407.3,78.8L406.8,79.0L407.9,81.2L409.5,83.1L411.3,84.4L413.7,84.2L416.8,83.5L418.6,84.6L419.0,85.6L418.6,87.2L419.9,89.3L420.6,92.4L419.9,95.8L421.3,100.7L422.8,104.6L423.5,104.8L426.2,104.4L428.8,101.5L430.4,99.2L430.2,97.1L432.6,94.5L432.4,91.9L432.2,89.8L432.8,87.4L434.2,85.9L437.3,81.2L437.5,80.5L434.2,80.9L433.7,80.0L432.6,78.3L431.5,75.7L430.4,73.6L429.3,71.6L429.1,70.1L428.4,69.8L425.7,69.5L423.5,70.0L423.5,69.2L421.3,69.2L419.5,68.2L419.3,67.1L418.2,67.1L415.9,67.2L413.7,67.9ZM434.2,99.7L434.0,97.9L434.4,95.3L436.6,92.9L437.1,94.7L435.7,99.7ZM380.3,82.2L381.2,80.9L382.6,80.4L382.8,81.2L384.3,81.2L387.0,81.1L387.9,82.2L390.1,83.5L391.9,84.3L392.4,86.7L394.8,88.0L399.0,89.5L397.5,93.7L396.8,98.1L393.7,99.9L392.1,103.3L389.7,104.6L389.7,105.9L387.5,107.0L386.6,108.0L386.8,109.0L385.2,110.9L384.6,113.2L384.6,114.3L382.8,115.3L381.0,113.2L381.2,109.6L381.4,105.9L382.3,102.3L382.8,96.3L380.6,93.9L378.3,89.8L378.6,87.2L379.7,85.4L379.2,82.5ZM465.3,98.1L465.1,100.2L465.8,104.4L467.1,104.9L469.8,104.1L472.9,103.1L474.7,104.9L476.0,104.9L476.9,106.4L479.6,107.0L481.3,106.2L482.9,101.2L482.7,99.7L480.9,97.3L479.6,96.3L479.3,94.2L478.0,92.2L477.6,93.4L477.6,95.5L476.9,95.8L475.1,94.5L475.3,92.9L473.3,92.5L472.2,94.5L471.1,93.9L470.2,94.5L468.9,95.8L468.4,96.8L466.7,97.4ZM479.1,107.9L480.6,108.0L480.0,109.3L479.3,108.8ZM491.5,104.6L494.0,106.3L493.4,107.2L492.3,108.3L492.3,107.0ZM491.5,107.7L492.2,108.3L490.8,109.8L489.6,110.9L488.7,110.5ZM472.9,69.0L474.7,68.1L476.9,66.9L477.6,65.2L477.8,66.1L477.1,68.2L476.2,68.6L474.7,69.2L472.9,70.5ZM476.9,64.8L477.7,63.0L479.3,64.1L478.2,64.8ZM450.2,83.5L451.0,82.8L450.3,81.6ZM468.1,74.9L468.7,73.5L468.8,73.9ZM468.0,77.0L469.1,77.1L469.8,79.9L468.2,79.4ZM468.9,83.0L470.9,83.3L470.7,81.7L469.6,82.1ZM457.0,83.8L458.2,84.5L461.8,88.2L461.8,89.8L460.0,89.3L456.9,85.1ZM461.3,89.8L464.0,90.0L465.6,90.3L467.6,90.9L465.6,91.3L461.8,90.8ZM480.5,89.5L482.2,88.7L482.7,89.3L481.3,90.0ZM483.6,89.8L485.8,91.1L486.7,92.1L484.9,91.3ZM468.0,91.1L471.1,90.8L470.2,91.6ZM463.1,85.6L466.7,83.0L467.6,84.1L467.1,86.1L466.2,88.5L464.0,88.2L463.1,87.2ZM467.6,89.7L467.8,86.4L470.2,85.7L468.7,87.1L469.6,89.0L468.4,88.2ZM472.9,87.4L475.8,87.4L480.0,89.8L481.6,92.1L478.2,91.3L477.3,91.5L476.0,91.0L474.7,88.8L473.3,88.7ZM376.8,75.3L379.0,74.6L381.6,76.1L380.1,76.3L379.0,75.4ZM381.4,77.1L382.2,76.3L384.1,77.0L383.0,77.4ZM477.8,62.7L478.5,61.1L478.0,58.4L477.8,60.1ZM419.5,45.8L422.2,44.7L426.6,45.0L424.4,46.3L421.7,46.8ZM437.7,49.7L439.5,47.9L445.3,46.7L441.3,47.6L439.1,49.4ZM456.0,45.5L459.1,44.5L460.9,45.5ZM475.6,48.1L477.8,47.1L481.3,47.3L479.1,48.4Z" fill="none" stroke="#120606" stroke-width="0.6" stroke-opacity="0.9"/>
<path d="M461.3,89.8L464.0,90.0L465.6,90.3L467.6,90.9L465.6,91.3L461.8,90.8ZM457.0,83.8L458.2,84.5L461.8,88.2L461.8,89.8L460.0,89.3L456.9,85.1ZM463.1,85.6L466.7,83.0L467.6,84.1L467.1,86.1L466.2,88.5L464.0,88.2L463.1,87.2ZM467.6,89.7L467.8,86.4L470.2,85.7L468.7,87.1L469.6,89.0L468.4,88.2ZM468.0,77.0L469.1,77.1L469.8,79.9L468.2,79.4ZM468.9,83.0L470.9,83.3L470.7,81.7L469.6,82.1ZM472.9,87.4L475.8,87.4L480.0,89.8L481.6,92.1L478.2,91.3L477.3,91.5L476.0,91.0L474.7,88.8L473.3,88.7ZM480.5,89.5L482.2,88.7L482.7,89.3L481.3,90.0ZM483.6,89.8L485.8,91.1L486.7,92.1L484.9,91.3ZM468.0,91.1L471.1,90.8L470.2,91.6ZM472.9,69.0L474.7,68.1L476.9,66.9L477.6,65.2L477.8,66.1L477.1,68.2L476.2,68.6L474.7,69.2L472.9,70.5ZM476.9,64.8L477.7,63.0L479.3,64.1L478.2,64.8ZM491.5,104.6L494.0,106.3L493.4,107.2L492.3,108.3L492.3,107.0ZM491.5,107.7L492.2,108.3L490.8,109.8L489.6,110.9L488.7,110.5ZM374.6,48.9L376.8,48.2L379.9,48.8L383.0,49.8L384.8,50.5L387.0,51.9L385.5,54.1L383.0,54.0L381.7,53.1L382.1,51.5L379.9,50.3L376.3,50.0ZM361.9,49.7L363.0,48.4L365.6,48.7L369.2,48.7L369.7,50.7L367.4,50.8L363.0,50.7ZM375.9,53.6L378.6,54.0L376.8,52.3ZM370.1,54.4L371.9,54.9L371.4,53.6ZM365.6,54.4L366.5,55.4L367.4,54.1ZM359.4,52.3L362.1,52.8L361.2,51.8ZM379.9,57.0L381.7,58.0L380.8,56.5ZM360.3,54.9L363.0,54.6L362.1,53.9ZM375.4,59.3L376.3,60.1L377.2,59.1Z" fill="none" stroke="#1a0808" stroke-width="0.45" stroke-opacity="0.7"/>
<path d="M368.5,49.8L368.2,50.5M376.0,48.3L375.3,48.4M366.9,50.0L367.8,50.4M364.4,46.5L364.0,47.5M364.8,45.8L365.1,46.8M378.5,44.9L378.1,46.5M379.2,46.3L378.9,47.5M380.8,49.9L381.6,50.7M361.4,47.2L361.2,48.8M363.6,49.2L364.5,50.0M371.3,47.7L370.9,49.4M374.1,46.4L373.7,47.1M363.2,50.2L363.5,50.8M376.4,49.8L377.1,50.6M363.1,45.1L361.9,45.1M361.2,50.1L361.7,50.9M362.6,47.2L363.9,47.3M365.9,48.2L367.2,49.0M380.9,48.3L382.1,49.4M367.1,46.1L365.9,46.3M377.2,45.2L378.6,45.6M373.2,49.6L372.4,50.3M379.5,49.8L380.3,50.2M383.1,49.7L381.5,50.7M368.8,47.1L369.4,47.4M378.3,47.3L377.2,47.5M359.0,52.0L361.6,52.6M362.5,54.4L366.1,54.9M370.5,58.8L371.4,60.4M373.7,61.7L376.8,62.2M375.9,63.2L377.7,64.0M378.1,64.3L380.3,64.5M364.8,55.9L367.0,56.0M368.3,57.0L369.7,57.2" stroke="#120606" stroke-width="0.75" stroke-linecap="round" fill="none" stroke-opacity="0.9"/>
<path d="M362.0,47.9L361.2,48.4M372.7,48.6L371.5,49.5M376.3,47.1L374.9,47.7M370.5,45.5L371.6,46.0M380.1,46.5L378.5,46.6M369.5,46.3L370.7,46.4M371.8,48.3L370.2,49.0M370.7,50.1L370.4,50.9M364.8,49.7L365.2,50.4M384.3,45.0L383.0,45.8M373.6,48.6L374.3,48.7M369.2,49.3L369.9,49.9" stroke="#ffffff" stroke-width="0.6" stroke-linecap="round" fill="none" stroke-opacity="0.8"/>
<path d="M347.9,95.5h0.01M352.3,94.5h0.01M338.5,93.9h0.01M335.4,96.0h0.01M343.4,97.1h0.01M350.1,98.1h0.01M336.1,103.3h0.01M374.1,86.9h0.01M403.5,66.9h0.01M407.5,72.1h0.01M403.9,78.8h0.01M388.3,113.6h0.01M398.1,114.9h0.01M445.3,112.2h0.01M440.2,97.2h0.01M447.1,85.1h0.01M412.1,94.9h0.01M408.2,90.8h0.01M488.5,98.1h0.01M491.1,85.6h0.01M484.9,83.0h0.01" stroke="#d08880" stroke-width="0.9" stroke-linecap="round" stroke-opacity="0.7"/>
<path d="M343.4,74.9L345.6,76.8M334.7,59.7L338.1,59.3" stroke="#2a0c0c" stroke-width="0.7" stroke-linecap="round" stroke-opacity="0.85"/>
<path d="M427.1,65.1L427.1,63.8L427.9,63.0L429.5,62.7L430.6,63.0L432.0,62.2L431.5,63.2L433.1,64.8L430.6,65.2L429.3,64.8ZM435.5,63.2L436.6,62.4L438.2,63.2L437.3,64.3L438.2,65.8L438.6,67.1L437.3,67.4L436.4,66.6L436.6,65.6L435.7,64.3ZM440.6,63.8L441.3,62.7L442.0,63.2ZM364.8,47.9L370.1,47.7L371.9,48.4L368.3,48.5L364.3,48.2ZM375.4,48.9L377.2,49.0L377.7,49.8L375.9,50.0ZM371.0,46.3L373.7,46.2L374.6,46.8L371.9,46.9Z" fill="#fff" stroke="#1a0808" stroke-width="0.5" stroke-opacity="0.85"/>
<rect x="334.3" y="39.8" width="160.4" height="78.1" fill="none" stroke="#999" stroke-width="0.9"/>
<rect x="222.60" y="126.8" width="27.84" height="7" fill="#6b0020"/>
<rect x="250.44" y="126.8" width="27.84" height="7" fill="#a02c36"/>
<rect x="278.28" y="126.8" width="27.84" height="7" fill="#c94a40"/>
<rect x="306.12" y="126.8" width="27.84" height="7" fill="#df7b69"/>
<rect x="333.96" y="126.8" width="27.84" height="7" fill="#eba69c"/>
<rect x="361.80" y="126.8" width="20.88" height="7" fill="#f3cdc9"/>
<rect x="382.68" y="126.8" width="13.92" height="7" fill="#f4f4f4"/>
<rect x="396.60" y="126.8" width="20.88" height="7" fill="#c3dbec"/>
<rect x="222.60" y="126.8" width="194.88" height="7" fill="none" stroke="#555" stroke-width="0.6"/>
<text x="222.60" y="141.60" font-size="5.6" text-anchor="middle" fill="#333" font-weight="normal" >-24</text>
<line x1="222.60" y1="133.6" x2="222.60" y2="132.2" stroke="#555" stroke-width="0.9"/>
<text x="250.44" y="141.60" font-size="5.6" text-anchor="middle" fill="#333" font-weight="normal" >-20</text>
<line x1="250.44" y1="133.6" x2="250.44" y2="132.2" stroke="#555" stroke-width="0.9"/>
<text x="278.28" y="141.60" font-size="5.6" text-anchor="middle" fill="#333" font-weight="normal" >-16</text>
<line x1="278.28" y1="133.6" x2="278.28" y2="132.2" stroke="#555" stroke-width="0.9"/>
<text x="306.12" y="141.60" font-size="5.6" text-anchor="middle" fill="#333" font-weight="normal" >-12</text>
<line x1="306.12" y1="133.6" x2="306.12" y2="132.2" stroke="#555" stroke-width="0.9"/>
<text x="333.96" y="141.60" font-size="5.6" text-anchor="middle" fill="#333" font-weight="normal" >-8</text>
<line x1="333.96" y1="133.6" x2="333.96" y2="132.2" stroke="#555" stroke-width="0.9"/>
<text x="361.80" y="141.60" font-size="5.6" text-anchor="middle" fill="#333" font-weight="normal" >-4</text>
<line x1="361.80" y1="133.6" x2="361.80" y2="132.2" stroke="#555" stroke-width="0.9"/>
<text x="389.64" y="141.60" font-size="5.6" text-anchor="middle" fill="#333" font-weight="normal" >0</text>
<line x1="389.64" y1="133.6" x2="389.64" y2="132.2" stroke="#555" stroke-width="0.9"/>
<text x="417.48" y="141.60" font-size="5.6" text-anchor="middle" fill="#333" font-weight="normal" >4</text>
<line x1="417.48" y1="133.6" x2="417.48" y2="132.2" stroke="#555" stroke-width="0.9"/>
<text x="426.50" y="132.20" font-size="5.6" text-anchor="middle" fill="#333" font-weight="normal" >%</text>
<rect x="60.5" y="169.4" width="191.8" height="95.6" fill="none" stroke="#999" stroke-width="0.9"/>
<rect x="265.2" y="169.3" width="192.1" height="95.8" fill="none" stroke="#999" stroke-width="0.9"/>
<g><path d="M98.7,170.6L98.7,261M127.35,170.6L127.35,261M156.0,170.6L156.0,261M184.65,170.6L184.65,261M213.3,170.6L213.3,261M68.9,190.7L244,190.7M68.9,215.8L244,215.8M68.9,240.6L244,240.6" stroke="#ececec" stroke-width="0.7" fill="none"/>
<path d="M68.5,179.4L93.8,179.8L95.8,177.4L105.2,176.4L116.9,174.0L151.6,174.0L151.6,185.2L138.2,185.2L136.7,186.9L132.7,187.9L132.7,191.8L125.8,197.8L119.5,201.5L120.3,203.6L112.2,204.0L105.4,208.0L97.0,199.9L94.5,194.0L93.8,191.4L86.8,187.1L74.4,190.4L74.4,184.4L68.5,184.4Z" fill="#d0604c" stroke="#0d0d0d" stroke-width="1.15" stroke-linejoin="round"/>
<path d="M105.4,208.0L112.2,204.0L119.9,203.5L132.3,212.4L132.3,215.9L139.8,215.9L139.8,225.8L136.8,226.8L123.2,226.8L119.9,225.8L115.4,221.4L115.4,211.9Z" fill="#1c1b08" stroke="#0d0d0d" stroke-width="1.15" stroke-linejoin="round"/>
<path d="M119.4,226.4L139.8,226.4L129.0,235.7L129.0,244.3L117.6,244.3L118.4,238.6Z" fill="#94463f" stroke="#0d0d0d" stroke-width="1.15" stroke-linejoin="round"/>
<path d="M119.2,224.6L123.0,226.4L121.9,238.8L118.3,239.0Z" fill="#552a1f" stroke="#0d0d0d" stroke-width="1.15" stroke-linejoin="round"/>
<path d="M151.6,180.6L175.6,180.6L175.6,179.3L201.6,175.3L243.9,179.1L243.9,186.6L234.8,191.6L230.6,193.2L220.7,204.0L220.7,207.0L201.5,207.0L201.5,203.0L151.6,201.2Z" fill="#d0604c" stroke="#0d0d0d" stroke-width="1.15" stroke-linejoin="round"/>
<path d="M146.5,201.2L173.3,201.2L177.3,208.4L146.5,208.4Z" fill="#d0604c" stroke="#0d0d0d" stroke-width="1.15" stroke-linejoin="round"/>
<path d="M173.3,201.6L179.9,201.2L184.9,204.9L178.2,209.2Z" fill="#552a1f" stroke="#0d0d0d" stroke-width="1.15" stroke-linejoin="round"/>
<path d="M185.7,201.6L192.8,201.6L199.0,203.3L204.4,201.6L204.4,205.8L199.0,206.6L194.0,212.4L190.7,205.8L186.2,204.9Z" fill="#94463f" stroke="#0d0d0d" stroke-width="1.15" stroke-linejoin="round"/>
<path d="M146.6,208.4L177.6,208.4L182.8,209.5L182.8,213.5L179.6,214.8L179.6,220.9L182.8,220.9L182.8,229.4L174.8,229.4L171.7,233.8L159.9,233.8L160.2,215.2L146.6,212.4Z" fill="#1c1b08" stroke="#0d0d0d" stroke-width="1.15" stroke-linejoin="round"/>
<path d="M159.9,220.9L169.4,220.9L169.4,233.8L159.9,233.8Z" fill="#552a1f" stroke="#0d0d0d" stroke-width="1.15" stroke-linejoin="round"/>
<path d="M169.4,220.9L178.0,220.9L171.7,233.8L169.4,233.8Z" fill="#552a1f" stroke="#0d0d0d" stroke-width="1.15" stroke-linejoin="round"/>
<path d="M201.5,206.6L220.7,206.6L220.7,214.1L231.5,220.9L231.5,221.3L201.5,221.3Z" fill="#1c1b08" stroke="#0d0d0d" stroke-width="1.15" stroke-linejoin="round"/>
<path d="M209.9,221.3L231.5,221.3L231.5,230.7L243.9,230.7L243.9,240.6L230.6,240.6L209.9,234.0Z" fill="#94463f" stroke="#0d0d0d" stroke-width="1.15" stroke-linejoin="round"/>
<path d="M226.5,225.7L231.5,225.7L231.5,234.0L226.5,234.0Z" fill="#552a1f" stroke="#0d0d0d" stroke-width="1.15" stroke-linejoin="round"/>
<path d="M74.4,179.7L74.4,184.4M105.2,176.4L105.2,199.9M116.9,174.0L132.7,187.9M93.8,191.4L132.7,191.4M112.3,191.4L112.3,204.0M97.0,199.9L105.4,199.9L112.3,203.9M112.2,204.0L118.4,211.4L132.3,211.9M118.4,211.4L115.4,211.9M121.4,211.4L121.4,225.8M121.4,220.9L139.8,220.9M131.8,215.9L131.8,225.8M118.3,238.9L129.0,238.9M151.6,191.8L175.6,185.5M151.6,193.4L230.6,193.4M175.6,179.3L175.6,201.2M175.6,183.4L243.9,183.4M185.2,183.4L185.2,193.4M200.8,183.4L200.8,193.4M219.9,183.4L219.9,193.4M192.4,193.4L192.4,201.6M192.8,197.9L208.2,197.9L212.3,194.2M204.9,197.9L204.9,205.8M175.8,201.2L192.4,201.6M163.6,208.4L160.8,215.2M169.4,208.4L169.4,233.8M169.4,215.0L179.6,215.0M159.9,220.9L182.8,220.9M209.9,225.7L231.5,225.7M209.9,230.7L226.5,230.7" fill="none" stroke="#0d0d0d" stroke-width="1.05"/>
<path d="M68.6,250.6L117.8,250.6L125.6,246.6L129.0,246.6L129.0,252.6L144.2,252.6L158.6,247.5L243.9,247.5L243.9,260.6L68.6,260.6Z" fill="#fff" stroke="#111" stroke-width="1.0" stroke-linejoin="round"/>
<path d="M68.6,257.4L129,257.4L129,246.6" fill="none" stroke="#111" stroke-width="1.0"/></g>
<g transform="translate(204.8,-0.1)"><path d="M98.7,170.6L98.7,261M127.35,170.6L127.35,261M156.0,170.6L156.0,261M184.65,170.6L184.65,261M213.3,170.6L213.3,261M68.9,190.7L244,190.7M68.9,215.8L244,215.8M68.9,240.6L244,240.6" stroke="#ececec" stroke-width="0.7" fill="none"/>
<path d="M68.5,179.4L93.8,179.8L95.8,177.4L105.2,176.4L116.9,174.0L151.6,174.0L151.6,185.2L138.2,185.2L136.7,186.9L132.7,187.9L132.7,191.8L125.8,197.8L119.5,201.5L120.3,203.6L112.2,204.0L105.4,208.0L97.0,199.9L94.5,194.0L93.8,191.4L86.8,187.1L74.4,190.4L74.4,184.4L68.5,184.4Z" fill="#d0604c" stroke="#0d0d0d" stroke-width="1.15" stroke-linejoin="round"/>
<path d="M105.4,208.0L112.2,204.0L119.9,203.5L132.3,212.4L132.3,215.9L139.8,215.9L139.8,225.8L136.8,226.8L123.2,226.8L119.9,225.8L115.4,221.4L115.4,211.9Z" fill="#1c1b08" stroke="#0d0d0d" stroke-width="1.15" stroke-linejoin="round"/>
<path d="M119.4,226.4L139.8,226.4L129.0,235.7L129.0,244.3L117.6,244.3L118.4,238.6Z" fill="#94463f" stroke="#0d0d0d" stroke-width="1.15" stroke-linejoin="round"/>
<path d="M119.2,224.6L123.0,226.4L121.9,238.8L118.3,239.0Z" fill="#552a1f" stroke="#0d0d0d" stroke-width="1.15" stroke-linejoin="round"/>
<path d="M151.6,180.6L175.6,180.6L175.6,179.3L201.6,175.3L243.9,179.1L243.9,186.6L234.8,191.6L230.6,193.2L220.7,204.0L220.7,207.0L201.5,207.0L201.5,203.0L151.6,201.2Z" fill="#d0604c" stroke="#0d0d0d" stroke-width="1.15" stroke-linejoin="round"/>
<path d="M146.5,201.2L173.3,201.2L177.3,208.4L146.5,208.4Z" fill="#d0604c" stroke="#0d0d0d" stroke-width="1.15" stroke-linejoin="round"/>
<path d="M173.3,201.6L179.9,201.2L184.9,204.9L178.2,209.2Z" fill="#552a1f" stroke="#0d0d0d" stroke-width="1.15" stroke-linejoin="round"/>
<path d="M185.7,201.6L192.8,201.6L199.0,203.3L204.4,201.6L204.4,205.8L199.0,206.6L194.0,212.4L190.7,205.8L186.2,204.9Z" fill="#94463f" stroke="#0d0d0d" stroke-width="1.15" stroke-linejoin="round"/>
<path d="M146.6,208.4L177.6,208.4L182.8,209.5L182.8,213.5L179.6,214.8L179.6,220.9L182.8,220.9L182.8,229.4L174.8,229.4L171.7,233.8L159.9,233.8L160.2,215.2L146.6,212.4Z" fill="#1c1b08" stroke="#0d0d0d" stroke-width="1.15" stroke-linejoin="round"/>
<path d="M159.9,220.9L169.4,220.9L169.4,233.8L159.9,233.8Z" fill="#552a1f" stroke="#0d0d0d" stroke-width="1.15" stroke-linejoin="round"/>
<path d="M169.4,220.9L178.0,220.9L171.7,233.8L169.4,233.8Z" fill="#552a1f" stroke="#0d0d0d" stroke-width="1.15" stroke-linejoin="round"/>
<path d="M201.5,206.6L220.7,206.6L220.7,214.1L231.5,220.9L231.5,221.3L201.5,221.3Z" fill="#1c1b08" stroke="#0d0d0d" stroke-width="1.15" stroke-linejoin="round"/>
<path d="M209.9,221.3L231.5,221.3L231.5,230.7L243.9,230.7L243.9,240.6L230.6,240.6L209.9,234.0Z" fill="#94463f" stroke="#0d0d0d" stroke-width="1.15" stroke-linejoin="round"/>
<path d="M226.5,225.7L231.5,225.7L231.5,234.0L226.5,234.0Z" fill="#552a1f" stroke="#0d0d0d" stroke-width="1.15" stroke-linejoin="round"/>
<path d="M74.4,179.7L74.4,184.4M105.2,176.4L105.2,199.9M116.9,174.0L132.7,187.9M93.8,191.4L132.7,191.4M112.3,191.4L112.3,204.0M97.0,199.9L105.4,199.9L112.3,203.9M112.2,204.0L118.4,211.4L132.3,211.9M118.4,211.4L115.4,211.9M121.4,211.4L121.4,225.8M121.4,220.9L139.8,220.9M131.8,215.9L131.8,225.8M118.3,238.9L129.0,238.9M151.6,191.8L175.6,185.5M151.6,193.4L230.6,193.4M175.6,179.3L175.6,201.2M175.6,183.4L243.9,183.4M185.2,183.4L185.2,193.4M200.8,183.4L200.8,193.4M219.9,183.4L219.9,193.4M192.4,193.4L192.4,201.6M192.8,197.9L208.2,197.9L212.3,194.2M204.9,197.9L204.9,205.8M175.8,201.2L192.4,201.6M163.6,208.4L160.8,215.2M169.4,208.4L169.4,233.8M169.4,215.0L179.6,215.0M159.9,220.9L182.8,220.9M209.9,225.7L231.5,225.7M209.9,230.7L226.5,230.7" fill="none" stroke="#0d0d0d" stroke-width="1.05"/>
<path d="M68.6,250.6L117.8,250.6L125.6,246.6L129.0,246.6L129.0,252.6L144.2,252.6L158.6,247.5L243.9,247.5L243.9,260.6L68.6,260.6Z" fill="#fff" stroke="#111" stroke-width="1.0" stroke-linejoin="round"/>
<path d="M68.6,257.4L129,257.4L129,246.6" fill="none" stroke="#111" stroke-width="1.0"/></g>
<rect x="57.80" y="273.4" width="26" height="13.2" fill="#1c1b08"/>
<line x1="57.80" y1="273.4" x2="57.80" y2="286.6" stroke="#333" stroke-width="0.5"/>
<rect x="83.80" y="273.4" width="26" height="13.2" fill="#542a1f"/>
<line x1="83.80" y1="273.4" x2="83.80" y2="286.6" stroke="#333" stroke-width="0.5"/>
<rect x="109.80" y="273.4" width="26" height="13.2" fill="#8f4440"/>
<line x1="109.80" y1="273.4" x2="109.80" y2="286.6" stroke="#333" stroke-width="0.5"/>
<rect x="135.80" y="273.4" width="26" height="13.2" fill="#cd5c4c"/>
<line x1="135.80" y1="273.4" x2="135.80" y2="286.6" stroke="#333" stroke-width="0.5"/>
<rect x="161.80" y="273.4" width="26" height="13.2" fill="#e8884e"/>
<line x1="161.80" y1="273.4" x2="161.80" y2="286.6" stroke="#333" stroke-width="0.5"/>
<rect x="187.80" y="273.4" width="26" height="13.2" fill="#f0b458"/>
<line x1="187.80" y1="273.4" x2="187.80" y2="286.6" stroke="#333" stroke-width="0.5"/>
<rect x="213.80" y="273.4" width="26" height="13.2" fill="#f8dc88"/>
<line x1="213.80" y1="273.4" x2="213.80" y2="286.6" stroke="#333" stroke-width="0.5"/>
<rect x="239.80" y="273.4" width="26" height="13.2" fill="#fffac4"/>
<line x1="239.80" y1="273.4" x2="239.80" y2="286.6" stroke="#333" stroke-width="0.5"/>
<rect x="57.8" y="273.4" width="208" height="13.2" fill="none" stroke="#222" stroke-width="0.8"/>
<text x="57.80" y="296.20" font-size="6.4" text-anchor="middle" fill="#333" font-weight="normal" textLength="14.20" lengthAdjust="spacingAndGlyphs" >1910</text>
<text x="83.80" y="296.20" font-size="6.4" text-anchor="middle" fill="#333" font-weight="normal" textLength="14.20" lengthAdjust="spacingAndGlyphs" >1930</text>
<text x="109.80" y="296.20" font-size="6.4" text-anchor="middle" fill="#333" font-weight="normal" textLength="14.20" lengthAdjust="spacingAndGlyphs" >1950</text>
<text x="135.80" y="296.20" font-size="6.4" text-anchor="middle" fill="#333" font-weight="normal" textLength="14.20" lengthAdjust="spacingAndGlyphs" >1970</text>
<text x="161.80" y="296.20" font-size="6.4" text-anchor="middle" fill="#333" font-weight="normal" textLength="14.20" lengthAdjust="spacingAndGlyphs" >1990</text>
<text x="187.80" y="296.20" font-size="6.4" text-anchor="middle" fill="#333" font-weight="normal" textLength="14.20" lengthAdjust="spacingAndGlyphs" >2010</text>
<text x="213.80" y="296.20" font-size="6.4" text-anchor="middle" fill="#333" font-weight="normal" textLength="14.20" lengthAdjust="spacingAndGlyphs" >2030</text>
<text x="239.80" y="296.20" font-size="6.4" text-anchor="middle" fill="#333" font-weight="normal" textLength="14.20" lengthAdjust="spacingAndGlyphs" >2050</text>
<text x="265.80" y="296.20" font-size="6.4" text-anchor="middle" fill="#333" font-weight="normal" textLength="14.20" lengthAdjust="spacingAndGlyphs" >2070</text>
<rect x="286" y="273.9" width="42.3" height="12.6" fill="#e8e8e8" stroke="#333" stroke-width="0.8"/>
<text x="286.30" y="295.60" font-size="6.4" text-anchor="start" fill="#333" font-weight="normal" textLength="41.30" lengthAdjust="spacingAndGlyphs" >No emergence</text>
<defs><clipPath id="hb1"><rect x="348.2" y="273.2" width="13.3" height="13.6"/></clipPath><clipPath id="hb2"><rect x="404.5" y="273.3" width="13.3" height="13.6"/></clipPath></defs>
<g clip-path="url(#hb1)"><rect x="348.2" y="273.2" width="13.3" height="13.6" fill="#fff"/><path d="M320.60,300.80 L361.90,259.20 M324.00,300.80 L365.30,259.20 M327.40,300.80 L368.70,259.20 M330.80,300.80 L372.10,259.20 M334.20,300.80 L375.50,259.20 M337.60,300.80 L378.90,259.20 M341.00,300.80 L382.30,259.20 M344.40,300.80 L385.70,259.20 M347.80,300.80 L389.10,259.20 M351.20,300.80 L392.50,259.20" stroke="#222" stroke-width="1.0"/></g>
<rect x="348.2" y="273.2" width="13.3" height="13.6" fill="none" stroke="#222" stroke-width="0.8"/>
<g clip-path="url(#hb2)"><rect x="404.5" y="273.3" width="13.3" height="13.6" fill="#fff"/><path d="M376.90,259.30 L418.20,300.90 M380.30,259.30 L421.60,300.90 M383.70,259.30 L425.00,300.90 M387.10,259.30 L428.40,300.90 M390.50,259.30 L431.80,300.90 M393.90,259.30 L435.20,300.90 M397.30,259.30 L438.60,300.90 M400.70,259.30 L442.00,300.90 M404.10,259.30 L445.40,300.90 M407.50,259.30 L448.80,300.90" stroke="#222" stroke-width="1.0"/></g>
<rect x="404.5" y="273.3" width="13.3" height="13.6" fill="none" stroke="#222" stroke-width="0.8"/>
<text x="365.50" y="282.70" font-size="6.5" text-anchor="start" fill="#333" font-weight="normal" textLength="35.10" lengthAdjust="spacingAndGlyphs" >6-10 models</text>
<text x="421.60" y="283.10" font-size="6.5" text-anchor="start" fill="#333" font-weight="normal" textLength="39.20" lengthAdjust="spacingAndGlyphs" >11-14 models</text>
</svg></body></html>
